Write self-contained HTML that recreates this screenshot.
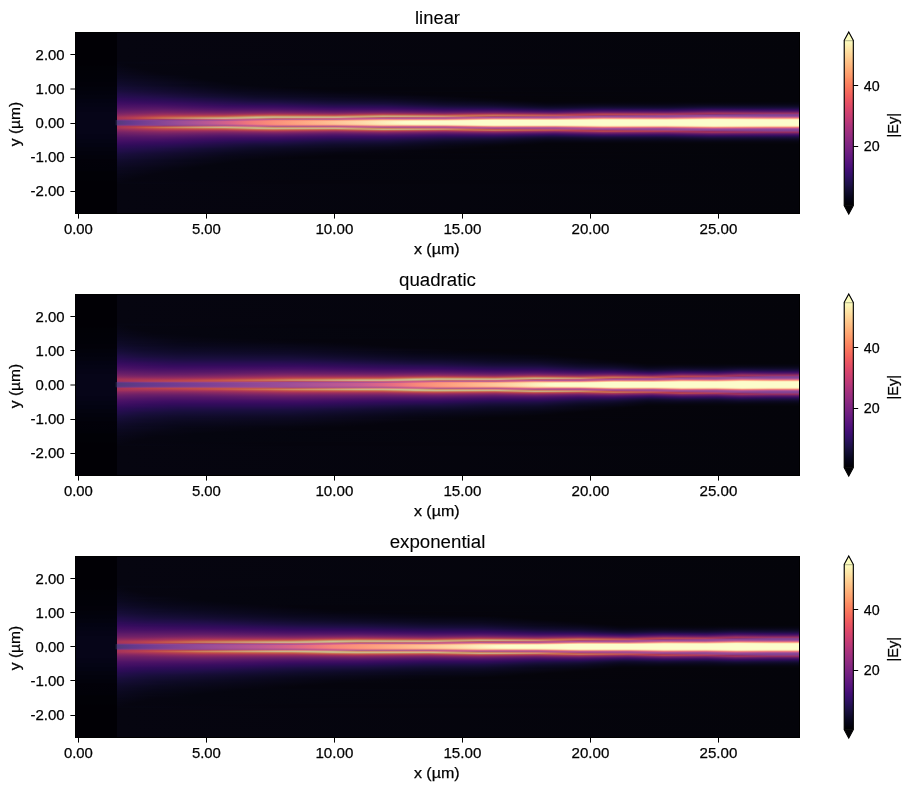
<!DOCTYPE html>
<html><head><meta charset="utf-8"><title>field plots</title>
<style>html,body{margin:0;padding:0;background:#fff}body{width:910px;height:790px;overflow:hidden;font-family:"Liberation Sans",sans-serif}svg{display:block}</style>
</head><body>
<svg width="910" height="790" viewBox="0 0 910 790">
<defs>
<linearGradient id="src" x1="0" y1="0" x2="0" y2="1"><stop offset="0" stop-color="#010005"/><stop offset="0.1823" stop-color="#010005"/><stop offset="0.1878" stop-color="#010106"/><stop offset="0.2707" stop-color="#010108"/><stop offset="0.2762" stop-color="#020109"/><stop offset="0.2983" stop-color="#020109"/><stop offset="0.3039" stop-color="#02020b"/><stop offset="0.3204" stop-color="#02020b"/><stop offset="0.326" stop-color="#02020d"/><stop offset="0.3425" stop-color="#02020d"/><stop offset="0.3481" stop-color="#03030f"/><stop offset="0.3646" stop-color="#03030f"/><stop offset="0.3702" stop-color="#030312"/><stop offset="0.3867" stop-color="#030312"/><stop offset="0.3923" stop-color="#040414"/><stop offset="0.4088" stop-color="#040414"/><stop offset="0.4144" stop-color="#050416"/><stop offset="0.4365" stop-color="#050416"/><stop offset="0.442" stop-color="#060518"/><stop offset="0.558" stop-color="#060518"/><stop offset="0.5635" stop-color="#050416"/><stop offset="0.5856" stop-color="#050416"/><stop offset="0.5912" stop-color="#040414"/><stop offset="0.6077" stop-color="#040414"/><stop offset="0.6133" stop-color="#030312"/><stop offset="0.6298" stop-color="#030312"/><stop offset="0.6354" stop-color="#03030f"/><stop offset="0.6519" stop-color="#03030f"/><stop offset="0.6575" stop-color="#02020d"/><stop offset="0.674" stop-color="#02020d"/><stop offset="0.6796" stop-color="#02020b"/><stop offset="0.6961" stop-color="#02020b"/><stop offset="0.7017" stop-color="#020109"/><stop offset="0.7624" stop-color="#010108"/><stop offset="0.768" stop-color="#010106"/><stop offset="0.8122" stop-color="#010106"/><stop offset="0.8177" stop-color="#010005"/><stop offset="1" stop-color="#010005"/></linearGradient>
<linearGradient id="cb" x1="0" y1="0" x2="0" y2="1"><stop offset="0" stop-color="#fcfdbf"/><stop offset="0.0159" stop-color="#fcf6b8"/><stop offset="0.0317" stop-color="#fceeb0"/><stop offset="0.0476" stop-color="#fde7a9"/><stop offset="0.0635" stop-color="#fde0a1"/><stop offset="0.0794" stop-color="#fed89a"/><stop offset="0.0952" stop-color="#fed194"/><stop offset="0.1111" stop-color="#feca8d"/><stop offset="0.127" stop-color="#fec287"/><stop offset="0.1429" stop-color="#febb81"/><stop offset="0.1587" stop-color="#feb47b"/><stop offset="0.1746" stop-color="#feac76"/><stop offset="0.1905" stop-color="#fea571"/><stop offset="0.2063" stop-color="#fe9d6c"/><stop offset="0.2222" stop-color="#fd9668"/><stop offset="0.2381" stop-color="#fc8c63"/><stop offset="0.254" stop-color="#fb8560"/><stop offset="0.2698" stop-color="#fa7d5e"/><stop offset="0.2857" stop-color="#f8765c"/><stop offset="0.3016" stop-color="#f66e5c"/><stop offset="0.3175" stop-color="#f4675c"/><stop offset="0.3333" stop-color="#f1605d"/><stop offset="0.3492" stop-color="#ed5a5f"/><stop offset="0.3651" stop-color="#e95462"/><stop offset="0.381" stop-color="#e44f64"/><stop offset="0.3968" stop-color="#df4a68"/><stop offset="0.4127" stop-color="#d9466b"/><stop offset="0.4286" stop-color="#d3436e"/><stop offset="0.4444" stop-color="#cd4071"/><stop offset="0.4603" stop-color="#c73d73"/><stop offset="0.4762" stop-color="#c03a76"/><stop offset="0.4921" stop-color="#ba3878"/><stop offset="0.5079" stop-color="#b2357b"/><stop offset="0.5238" stop-color="#ab337c"/><stop offset="0.5397" stop-color="#a5317e"/><stop offset="0.5556" stop-color="#9e2f7f"/><stop offset="0.5714" stop-color="#982d80"/><stop offset="0.5873" stop-color="#912b81"/><stop offset="0.6032" stop-color="#8b2981"/><stop offset="0.619" stop-color="#842681"/><stop offset="0.6349" stop-color="#7e2482"/><stop offset="0.6508" stop-color="#782281"/><stop offset="0.6667" stop-color="#721f81"/><stop offset="0.6825" stop-color="#6b1d81"/><stop offset="0.6984" stop-color="#651a80"/><stop offset="0.7143" stop-color="#5f187f"/><stop offset="0.7302" stop-color="#59157e"/><stop offset="0.746" stop-color="#52137c"/><stop offset="0.7619" stop-color="#4c117a"/><stop offset="0.7778" stop-color="#440f76"/><stop offset="0.7937" stop-color="#3d0f71"/><stop offset="0.8095" stop-color="#36106b"/><stop offset="0.8254" stop-color="#2f1163"/><stop offset="0.8413" stop-color="#29115a"/><stop offset="0.8571" stop-color="#221150"/><stop offset="0.873" stop-color="#1d1147"/><stop offset="0.8889" stop-color="#180f3d"/><stop offset="0.9048" stop-color="#130d34"/><stop offset="0.9206" stop-color="#0e0b2b"/><stop offset="0.9365" stop-color="#0a0822"/><stop offset="0.9524" stop-color="#06051a"/><stop offset="0.9683" stop-color="#030312"/><stop offset="0.9841" stop-color="#020109"/><stop offset="1" stop-color="#000004"/></linearGradient>
<linearGradient id="g0_0" gradientUnits="userSpaceOnUse" x1="117" y1="0" x2="800" y2="0"><stop offset="0" stop-color="#060510"/><stop offset="1" stop-color="#04040a"/></linearGradient>
<linearGradient id="g0_1" gradientUnits="userSpaceOnUse" x1="117" y1="0" x2="800" y2="0"><stop offset="0" stop-color="#060510"/><stop offset="1" stop-color="#04040a"/></linearGradient>
<linearGradient id="g0_2" gradientUnits="userSpaceOnUse" x1="117" y1="0" x2="800" y2="0"><stop offset="0" stop-color="#060510"/><stop offset="1" stop-color="#04040a"/></linearGradient>
<linearGradient id="g0_3" gradientUnits="userSpaceOnUse" x1="117" y1="0" x2="800" y2="0"><stop offset="0" stop-color="#060510"/><stop offset="1" stop-color="#04040a"/></linearGradient>
<linearGradient id="g0_4" gradientUnits="userSpaceOnUse" x1="117" y1="0" x2="800" y2="0"><stop offset="0" stop-color="#060510"/><stop offset="1" stop-color="#04040a"/></linearGradient>
<linearGradient id="g0_5" gradientUnits="userSpaceOnUse" x1="117" y1="0" x2="800" y2="0"><stop offset="0" stop-color="#060510"/><stop offset="1" stop-color="#04040a"/></linearGradient>
<linearGradient id="g0_6" gradientUnits="userSpaceOnUse" x1="117" y1="0" x2="800" y2="0"><stop offset="0" stop-color="#060510"/><stop offset="1" stop-color="#04040a"/></linearGradient>
<linearGradient id="g0_7" gradientUnits="userSpaceOnUse" x1="117" y1="0" x2="800" y2="0"><stop offset="0" stop-color="#060510"/><stop offset="1" stop-color="#04040a"/></linearGradient>
<linearGradient id="g0_8" gradientUnits="userSpaceOnUse" x1="117" y1="0" x2="800" y2="0"><stop offset="0" stop-color="#060510"/><stop offset="1" stop-color="#04040a"/></linearGradient>
<linearGradient id="g0_9" gradientUnits="userSpaceOnUse" x1="117" y1="0" x2="800" y2="0"><stop offset="0" stop-color="#060510"/><stop offset="1" stop-color="#04040a"/></linearGradient>
<linearGradient id="g0_10" gradientUnits="userSpaceOnUse" x1="117" y1="0" x2="800" y2="0"><stop offset="0" stop-color="#060510"/><stop offset="1" stop-color="#04040a"/></linearGradient>
<linearGradient id="g0_11" gradientUnits="userSpaceOnUse" x1="117" y1="0" x2="800" y2="0"><stop offset="0" stop-color="#060510"/><stop offset="1" stop-color="#04040a"/></linearGradient>
<linearGradient id="g0_12" gradientUnits="userSpaceOnUse" x1="117" y1="0" x2="800" y2="0"><stop offset="0" stop-color="#060510"/><stop offset="1" stop-color="#04040a"/></linearGradient>
<linearGradient id="g0_13" gradientUnits="userSpaceOnUse" x1="117" y1="0" x2="800" y2="0"><stop offset="0" stop-color="#060510"/><stop offset="1" stop-color="#04040a"/></linearGradient>
<linearGradient id="g0_14" gradientUnits="userSpaceOnUse" x1="117" y1="0" x2="800" y2="0"><stop offset="0" stop-color="#060510"/><stop offset="1" stop-color="#04040a"/></linearGradient>
<linearGradient id="g0_15" gradientUnits="userSpaceOnUse" x1="117" y1="0" x2="800" y2="0"><stop offset="0" stop-color="#060510"/><stop offset="1" stop-color="#04040a"/></linearGradient>
<linearGradient id="g0_16" gradientUnits="userSpaceOnUse" x1="117" y1="0" x2="800" y2="0"><stop offset="0" stop-color="#060510"/><stop offset="1" stop-color="#04040a"/></linearGradient>
<linearGradient id="g0_17" gradientUnits="userSpaceOnUse" x1="117" y1="0" x2="800" y2="0"><stop offset="0" stop-color="#060510"/><stop offset="1" stop-color="#04040a"/></linearGradient>
<linearGradient id="g0_18" gradientUnits="userSpaceOnUse" x1="117" y1="0" x2="800" y2="0"><stop offset="0" stop-color="#060510"/><stop offset="1" stop-color="#04040a"/></linearGradient>
<linearGradient id="g0_19" gradientUnits="userSpaceOnUse" x1="117" y1="0" x2="800" y2="0"><stop offset="0" stop-color="#060510"/><stop offset="1" stop-color="#04040a"/></linearGradient>
<linearGradient id="g0_20" gradientUnits="userSpaceOnUse" x1="117" y1="0" x2="800" y2="0"><stop offset="0" stop-color="#060510"/><stop offset="1" stop-color="#04040a"/></linearGradient>
<linearGradient id="g0_21" gradientUnits="userSpaceOnUse" x1="117" y1="0" x2="800" y2="0"><stop offset="0" stop-color="#060510"/><stop offset="1" stop-color="#04040a"/></linearGradient>
<linearGradient id="g0_22" gradientUnits="userSpaceOnUse" x1="117" y1="0" x2="800" y2="0"><stop offset="0" stop-color="#060510"/><stop offset="1" stop-color="#04040a"/></linearGradient>
<linearGradient id="g0_23" gradientUnits="userSpaceOnUse" x1="117" y1="0" x2="800" y2="0"><stop offset="0" stop-color="#060510"/><stop offset="1" stop-color="#04040a"/></linearGradient>
<linearGradient id="g0_24" gradientUnits="userSpaceOnUse" x1="117" y1="0" x2="800" y2="0"><stop offset="0" stop-color="#060510"/><stop offset="1" stop-color="#04040a"/></linearGradient>
<linearGradient id="g0_25" gradientUnits="userSpaceOnUse" x1="117" y1="0" x2="800" y2="0"><stop offset="0" stop-color="#060510"/><stop offset="1" stop-color="#04040a"/></linearGradient>
<linearGradient id="g0_26" gradientUnits="userSpaceOnUse" x1="117" y1="0" x2="800" y2="0"><stop offset="0" stop-color="#060510"/><stop offset="1" stop-color="#04040a"/></linearGradient>
<linearGradient id="g0_27" gradientUnits="userSpaceOnUse" x1="117" y1="0" x2="800" y2="0"><stop offset="0" stop-color="#060510"/><stop offset="1" stop-color="#04040a"/></linearGradient>
<linearGradient id="g0_28" gradientUnits="userSpaceOnUse" x1="117" y1="0" x2="800" y2="0"><stop offset="0" stop-color="#060510"/><stop offset="1" stop-color="#04040a"/></linearGradient>
<linearGradient id="g0_29" gradientUnits="userSpaceOnUse" x1="117" y1="0" x2="800" y2="0"><stop offset="0" stop-color="#060510"/><stop offset="1" stop-color="#04040a"/></linearGradient>
<linearGradient id="g0_30" gradientUnits="userSpaceOnUse" x1="117" y1="0" x2="800" y2="0"><stop offset="0" stop-color="#060612"/><stop offset="0.2592" stop-color="#05040d"/><stop offset="1" stop-color="#04040a"/></linearGradient>
<linearGradient id="g0_31" gradientUnits="userSpaceOnUse" x1="117" y1="0" x2="800" y2="0"><stop offset="0" stop-color="#060512"/><stop offset="0.2592" stop-color="#05040d"/><stop offset="1" stop-color="#04040a"/></linearGradient>
<linearGradient id="g0_32" gradientUnits="userSpaceOnUse" x1="117" y1="0" x2="800" y2="0"><stop offset="0" stop-color="#070614"/><stop offset="0.0132" stop-color="#060510"/><stop offset="0.2592" stop-color="#05040d"/><stop offset="1" stop-color="#04040a"/></linearGradient>
<linearGradient id="g0_33" gradientUnits="userSpaceOnUse" x1="117" y1="0" x2="800" y2="0"><stop offset="0" stop-color="#070614"/><stop offset="0.0176" stop-color="#060510"/><stop offset="0.2592" stop-color="#05040d"/><stop offset="1" stop-color="#04040a"/></linearGradient>
<linearGradient id="g0_34" gradientUnits="userSpaceOnUse" x1="117" y1="0" x2="800" y2="0"><stop offset="0" stop-color="#070615"/><stop offset="0.0234" stop-color="#060510"/><stop offset="0.1113" stop-color="#05050f"/><stop offset="1" stop-color="#04040a"/></linearGradient>
<linearGradient id="g0_35" gradientUnits="userSpaceOnUse" x1="117" y1="0" x2="800" y2="0"><stop offset="0" stop-color="#070615"/><stop offset="0.0278" stop-color="#060510"/><stop offset="0.1113" stop-color="#05050f"/><stop offset="1" stop-color="#04040a"/></linearGradient>
<linearGradient id="g0_36" gradientUnits="userSpaceOnUse" x1="117" y1="0" x2="800" y2="0"><stop offset="0" stop-color="#080717"/><stop offset="0.0351" stop-color="#060510"/><stop offset="0.1113" stop-color="#05050f"/><stop offset="1" stop-color="#04040a"/></linearGradient>
<linearGradient id="g0_37" gradientUnits="userSpaceOnUse" x1="117" y1="0" x2="800" y2="0"><stop offset="0" stop-color="#080717"/><stop offset="0.041" stop-color="#060510"/><stop offset="0.1113" stop-color="#05050f"/><stop offset="1" stop-color="#04040a"/></linearGradient>
<linearGradient id="g0_38" gradientUnits="userSpaceOnUse" x1="117" y1="0" x2="800" y2="0"><stop offset="0" stop-color="#090719"/><stop offset="0.0469" stop-color="#060510"/><stop offset="0.1113" stop-color="#05050f"/><stop offset="1" stop-color="#04040a"/></linearGradient>
<linearGradient id="g0_39" gradientUnits="userSpaceOnUse" x1="117" y1="0" x2="800" y2="0"><stop offset="0" stop-color="#080719"/><stop offset="0.0542" stop-color="#060510"/><stop offset="0.1113" stop-color="#05050f"/><stop offset="1" stop-color="#04040a"/></linearGradient>
<linearGradient id="g0_40" gradientUnits="userSpaceOnUse" x1="117" y1="0" x2="800" y2="0"><stop offset="0" stop-color="#09081b"/><stop offset="0.06" stop-color="#060510"/><stop offset="0.1113" stop-color="#05050f"/><stop offset="1" stop-color="#04040a"/></linearGradient>
<linearGradient id="g0_41" gradientUnits="userSpaceOnUse" x1="117" y1="0" x2="800" y2="0"><stop offset="0" stop-color="#0a081c"/><stop offset="0.0673" stop-color="#060510"/><stop offset="0.1113" stop-color="#05050f"/><stop offset="1" stop-color="#04040a"/></linearGradient>
<linearGradient id="g0_42" gradientUnits="userSpaceOnUse" x1="117" y1="0" x2="800" y2="0"><stop offset="0" stop-color="#0a081c"/><stop offset="0.0747" stop-color="#060510"/><stop offset="0.1113" stop-color="#05050f"/><stop offset="1" stop-color="#04040a"/></linearGradient>
<linearGradient id="g0_43" gradientUnits="userSpaceOnUse" x1="117" y1="0" x2="800" y2="0"><stop offset="0" stop-color="#0b081e"/><stop offset="0.0688" stop-color="#060512"/><stop offset="0.1113" stop-color="#05050f"/><stop offset="1" stop-color="#04040a"/></linearGradient>
<linearGradient id="g0_44" gradientUnits="userSpaceOnUse" x1="117" y1="0" x2="800" y2="0"><stop offset="0" stop-color="#0b0920"/><stop offset="0.1113" stop-color="#05050f"/><stop offset="1" stop-color="#04040a"/></linearGradient>
<linearGradient id="g0_45" gradientUnits="userSpaceOnUse" x1="117" y1="0" x2="800" y2="0"><stop offset="0" stop-color="#0b0920"/><stop offset="0.1113" stop-color="#05050f"/><stop offset="1" stop-color="#04040a"/></linearGradient>
<linearGradient id="g0_46" gradientUnits="userSpaceOnUse" x1="117" y1="0" x2="800" y2="0"><stop offset="0" stop-color="#0c0922"/><stop offset="0.1201" stop-color="#05050f"/><stop offset="1" stop-color="#04040a"/></linearGradient>
<linearGradient id="g0_47" gradientUnits="userSpaceOnUse" x1="117" y1="0" x2="800" y2="0"><stop offset="0" stop-color="#0d0a24"/><stop offset="0.1288" stop-color="#05050f"/><stop offset="1" stop-color="#04040a"/></linearGradient>
<linearGradient id="g0_48" gradientUnits="userSpaceOnUse" x1="117" y1="0" x2="800" y2="0"><stop offset="0" stop-color="#0e0a26"/><stop offset="0.1376" stop-color="#05050f"/><stop offset="1" stop-color="#04040a"/></linearGradient>
<linearGradient id="g0_49" gradientUnits="userSpaceOnUse" x1="117" y1="0" x2="800" y2="0"><stop offset="0" stop-color="#0f0a27"/><stop offset="0.1464" stop-color="#05050f"/><stop offset="1" stop-color="#04040a"/></linearGradient>
<linearGradient id="g0_50" gradientUnits="userSpaceOnUse" x1="117" y1="0" x2="800" y2="0"><stop offset="0" stop-color="#0f0b29"/><stop offset="0.1567" stop-color="#05050f"/><stop offset="1" stop-color="#04040a"/></linearGradient>
<linearGradient id="g0_51" gradientUnits="userSpaceOnUse" x1="117" y1="0" x2="800" y2="0"><stop offset="0" stop-color="#100b2b"/><stop offset="0.1669" stop-color="#05050f"/><stop offset="1" stop-color="#04040a"/></linearGradient>
<linearGradient id="g0_52" gradientUnits="userSpaceOnUse" x1="117" y1="0" x2="800" y2="0"><stop offset="0" stop-color="#110b2d"/><stop offset="0.1025" stop-color="#080719"/><stop offset="0.1786" stop-color="#05050f"/><stop offset="1" stop-color="#04040a"/></linearGradient>
<linearGradient id="g0_53" gradientUnits="userSpaceOnUse" x1="117" y1="0" x2="800" y2="0"><stop offset="0" stop-color="#120c2f"/><stop offset="0.1127" stop-color="#080719"/><stop offset="0.1903" stop-color="#05050f"/><stop offset="1" stop-color="#04040a"/></linearGradient>
<linearGradient id="g0_54" gradientUnits="userSpaceOnUse" x1="117" y1="0" x2="800" y2="0"><stop offset="0" stop-color="#130c31"/><stop offset="0.1025" stop-color="#0a081c"/><stop offset="0.2035" stop-color="#05050f"/><stop offset="1" stop-color="#04040a"/></linearGradient>
<linearGradient id="g0_55" gradientUnits="userSpaceOnUse" x1="117" y1="0" x2="800" y2="0"><stop offset="0" stop-color="#150d35"/><stop offset="0.1464" stop-color="#080717"/><stop offset="0.2592" stop-color="#05040d"/><stop offset="1" stop-color="#04040a"/></linearGradient>
<linearGradient id="g0_56" gradientUnits="userSpaceOnUse" x1="117" y1="0" x2="800" y2="0"><stop offset="0" stop-color="#160d37"/><stop offset="0.1581" stop-color="#080717"/><stop offset="0.2753" stop-color="#05040d"/><stop offset="1" stop-color="#04040a"/></linearGradient>
<linearGradient id="g0_57" gradientUnits="userSpaceOnUse" x1="117" y1="0" x2="800" y2="0"><stop offset="0" stop-color="#170d38"/><stop offset="0.1728" stop-color="#080717"/><stop offset="0.2987" stop-color="#05040d"/><stop offset="1" stop-color="#04040a"/></linearGradient>
<linearGradient id="g0_58" gradientUnits="userSpaceOnUse" x1="117" y1="0" x2="800" y2="0"><stop offset="0" stop-color="#190e3c"/><stop offset="0.1625" stop-color="#09071b"/><stop offset="0.3236" stop-color="#05040d"/><stop offset="1" stop-color="#04040a"/></linearGradient>
<linearGradient id="g0_59" gradientUnits="userSpaceOnUse" x1="117" y1="0" x2="800" y2="0"><stop offset="0" stop-color="#1a0e3e"/><stop offset="0.1786" stop-color="#09071b"/><stop offset="0.3206" stop-color="#05050f"/><stop offset="1" stop-color="#04040a"/></linearGradient>
<linearGradient id="g0_60" gradientUnits="userSpaceOnUse" x1="117" y1="0" x2="800" y2="0"><stop offset="0" stop-color="#1d0e42"/><stop offset="0.1596" stop-color="#0b0920"/><stop offset="0.3221" stop-color="#060510"/><stop offset="0.4861" stop-color="#05040b"/><stop offset="1" stop-color="#04040a"/></linearGradient>
<linearGradient id="g0_61" gradientUnits="userSpaceOnUse" x1="117" y1="0" x2="800" y2="0"><stop offset="0" stop-color="#1f0e46"/><stop offset="0.1654" stop-color="#0c0922"/><stop offset="0.3294" stop-color="#060512"/><stop offset="0.4861" stop-color="#05040b"/><stop offset="1" stop-color="#04040a"/></linearGradient>
<linearGradient id="g0_62" gradientUnits="userSpaceOnUse" x1="117" y1="0" x2="800" y2="0"><stop offset="0" stop-color="#220e4a"/><stop offset="0.1962" stop-color="#0b0920"/><stop offset="0.4407" stop-color="#05040d"/><stop offset="1" stop-color="#04040a"/></linearGradient>
<linearGradient id="g0_63" gradientUnits="userSpaceOnUse" x1="117" y1="0" x2="800" y2="0"><stop offset="0" stop-color="#230e4c"/><stop offset="0.0673" stop-color="#1c0e40"/><stop offset="0.1245" stop-color="#130c31"/><stop offset="0.1933" stop-color="#0d0a24"/><stop offset="0.4597" stop-color="#05040d"/><stop offset="1" stop-color="#04040a"/></linearGradient>
<linearGradient id="g0_64" gradientUnits="userSpaceOnUse" x1="117" y1="0" x2="800" y2="0"><stop offset="0" stop-color="#260d4f"/><stop offset="0.041" stop-color="#220e4a"/><stop offset="0.1332" stop-color="#140d33"/><stop offset="0.205" stop-color="#0e0a26"/><stop offset="0.3119" stop-color="#09071b"/><stop offset="0.4173" stop-color="#070615"/><stop offset="0.5022" stop-color="#05040b"/><stop offset="1" stop-color="#04040a"/></linearGradient>
<linearGradient id="g0_65" gradientUnits="userSpaceOnUse" x1="117" y1="0" x2="800" y2="0"><stop offset="0" stop-color="#280d52"/><stop offset="0.0439" stop-color="#240e4d"/><stop offset="0.1347" stop-color="#160d37"/><stop offset="0.2064" stop-color="#0f0b29"/><stop offset="0.3309" stop-color="#0a081c"/><stop offset="0.41" stop-color="#090719"/><stop offset="0.5286" stop-color="#05040b"/><stop offset="1" stop-color="#04040a"/></linearGradient>
<linearGradient id="g0_66" gradientUnits="userSpaceOnUse" x1="117" y1="0" x2="800" y2="0"><stop offset="0" stop-color="#2d0c57"/><stop offset="0.0747" stop-color="#230e4c"/><stop offset="0.1962" stop-color="#120c2f"/><stop offset="0.5549" stop-color="#05040b"/><stop offset="1" stop-color="#04040a"/></linearGradient>
<linearGradient id="g0_67" gradientUnits="userSpaceOnUse" x1="117" y1="0" x2="800" y2="0"><stop offset="0" stop-color="#2f0c59"/><stop offset="0.0717" stop-color="#270d51"/><stop offset="0.202" stop-color="#140d33"/><stop offset="0.3119" stop-color="#0e0a26"/><stop offset="0.3924" stop-color="#0c0922"/><stop offset="0.4846" stop-color="#070614"/><stop offset="0.5754" stop-color="#05040b"/><stop offset="1" stop-color="#04040a"/></linearGradient>
<linearGradient id="g0_68" gradientUnits="userSpaceOnUse" x1="117" y1="0" x2="800" y2="0"><stop offset="0" stop-color="#320c5b"/><stop offset="0.0703" stop-color="#2b0d55"/><stop offset="0.1991" stop-color="#170d38"/><stop offset="0.2343" stop-color="#160d37"/><stop offset="0.3177" stop-color="#0f0b29"/><stop offset="0.3982" stop-color="#0e0a25"/><stop offset="0.4817" stop-color="#080717"/><stop offset="0.5959" stop-color="#05040b"/><stop offset="1" stop-color="#04040a"/></linearGradient>
<linearGradient id="g0_69" gradientUnits="userSpaceOnUse" x1="117" y1="0" x2="800" y2="0"><stop offset="0" stop-color="#360c5e"/><stop offset="0.0703" stop-color="#2f0c59"/><stop offset="0.1991" stop-color="#1a0e3e"/><stop offset="0.2343" stop-color="#190e3c"/><stop offset="0.3148" stop-color="#120c2f"/><stop offset="0.3939" stop-color="#100b2b"/><stop offset="0.4846" stop-color="#09071b"/><stop offset="0.6179" stop-color="#05040b"/><stop offset="1" stop-color="#04040a"/></linearGradient>
<linearGradient id="g0_70" gradientUnits="userSpaceOnUse" x1="117" y1="0" x2="800" y2="0"><stop offset="0" stop-color="#3a0d60"/><stop offset="0.0805" stop-color="#320c5b"/><stop offset="0.202" stop-color="#1e0e44"/><stop offset="0.2387" stop-color="#1d0e42"/><stop offset="0.3148" stop-color="#150d35"/><stop offset="0.3939" stop-color="#130c31"/><stop offset="0.4773" stop-color="#0b0920"/><stop offset="0.5403" stop-color="#09081b"/><stop offset="0.6266" stop-color="#05040d"/><stop offset="1" stop-color="#05050d"/></linearGradient>
<linearGradient id="g0_71" gradientUnits="userSpaceOnUse" x1="117" y1="0" x2="800" y2="0"><stop offset="0" stop-color="#3e0e62"/><stop offset="0.0922" stop-color="#350c5d"/><stop offset="0.1625" stop-color="#270d51"/><stop offset="0.2343" stop-color="#220e4a"/><stop offset="0.306" stop-color="#190e3c"/><stop offset="0.3982" stop-color="#160d37"/><stop offset="0.4758" stop-color="#0e0a26"/><stop offset="0.5505" stop-color="#0b081e"/><stop offset="0.6266" stop-color="#060510"/><stop offset="1" stop-color="#060510"/></linearGradient>
<linearGradient id="g0_72" gradientUnits="userSpaceOnUse" x1="117" y1="0" x2="800" y2="0"><stop offset="0" stop-color="#420f63"/><stop offset="0.0673" stop-color="#3e0e62"/><stop offset="0.1977" stop-color="#280d52"/><stop offset="0.2343" stop-color="#270d51"/><stop offset="0.3163" stop-color="#1d0e42"/><stop offset="0.3968" stop-color="#1a0e3e"/><stop offset="0.4788" stop-color="#100b2b"/><stop offset="0.552" stop-color="#0d0a24"/><stop offset="0.631" stop-color="#070614"/><stop offset="0.6955" stop-color="#080717"/><stop offset="0.798" stop-color="#070614"/><stop offset="0.8404" stop-color="#080717"/><stop offset="1" stop-color="#070615"/></linearGradient>
<linearGradient id="g0_73" gradientUnits="userSpaceOnUse" x1="117" y1="0" x2="800" y2="0"><stop offset="0" stop-color="#461064"/><stop offset="0.0439" stop-color="#461064"/><stop offset="0.1625" stop-color="#320c5b"/><stop offset="0.2299" stop-color="#2e0c58"/><stop offset="0.3177" stop-color="#220e4a"/><stop offset="0.3895" stop-color="#200e48"/><stop offset="0.4773" stop-color="#140d33"/><stop offset="0.5505" stop-color="#100b2b"/><stop offset="0.631" stop-color="#080719"/><stop offset="0.6837" stop-color="#0a081c"/><stop offset="0.8214" stop-color="#09071b"/><stop offset="0.8492" stop-color="#0b081e"/><stop offset="1" stop-color="#0a081c"/></linearGradient>
<linearGradient id="g0_74" gradientUnits="userSpaceOnUse" x1="117" y1="0" x2="800" y2="0"><stop offset="0" stop-color="#4b1266"/><stop offset="0.06" stop-color="#491265"/><stop offset="0.1581" stop-color="#390d60"/><stop offset="0.2299" stop-color="#350c5d"/><stop offset="0.3148" stop-color="#280d52"/><stop offset="0.3909" stop-color="#270d51"/><stop offset="0.4802" stop-color="#180e3a"/><stop offset="0.5447" stop-color="#150d35"/><stop offset="0.6281" stop-color="#0b0920"/><stop offset="0.7028" stop-color="#0e0a25"/><stop offset="0.8126" stop-color="#0c0922"/><stop offset="0.8726" stop-color="#0f0b29"/><stop offset="1" stop-color="#0d0a24"/></linearGradient>
<linearGradient id="g0_75" gradientUnits="userSpaceOnUse" x1="117" y1="0" x2="800" y2="0"><stop offset="0" stop-color="#4e1466"/><stop offset="0.0571" stop-color="#501466"/><stop offset="0.1596" stop-color="#3f0e63"/><stop offset="0.2372" stop-color="#3b0d61"/><stop offset="0.3192" stop-color="#2f0c59"/><stop offset="0.3982" stop-color="#2e0c58"/><stop offset="0.4846" stop-color="#1e0e44"/><stop offset="0.552" stop-color="#1a0e3e"/><stop offset="0.6266" stop-color="#0f0b29"/><stop offset="0.6574" stop-color="#0f0b29"/><stop offset="0.7101" stop-color="#130c31"/><stop offset="0.8038" stop-color="#100b2b"/><stop offset="0.8624" stop-color="#150d35"/><stop offset="1" stop-color="#130c31"/></linearGradient>
<linearGradient id="g0_76" gradientUnits="userSpaceOnUse" x1="117" y1="0" x2="800" y2="0"><stop offset="0" stop-color="#531667"/><stop offset="0.06" stop-color="#561767"/><stop offset="0.1567" stop-color="#471165"/><stop offset="0.2328" stop-color="#441064"/><stop offset="0.3119" stop-color="#390d60"/><stop offset="0.3968" stop-color="#370c5f"/><stop offset="0.4773" stop-color="#270d51"/><stop offset="0.552" stop-color="#230e4c"/><stop offset="0.6281" stop-color="#150d35"/><stop offset="0.653" stop-color="#150d35"/><stop offset="0.7042" stop-color="#1a0e3e"/><stop offset="0.8023" stop-color="#170d38"/><stop offset="0.8682" stop-color="#1f0e46"/><stop offset="0.94" stop-color="#1c0e40"/><stop offset="1" stop-color="#1c0e40"/></linearGradient>
<linearGradient id="g0_77" gradientUnits="userSpaceOnUse" x1="117" y1="0" x2="800" y2="0"><stop offset="0" stop-color="#5a1967"/><stop offset="0.0732" stop-color="#5c1a67"/><stop offset="0.1523" stop-color="#501466"/><stop offset="0.2284" stop-color="#4e1466"/><stop offset="0.3133" stop-color="#420f63"/><stop offset="0.4143" stop-color="#3f0e63"/><stop offset="0.4802" stop-color="#310c5a"/><stop offset="0.5564" stop-color="#2e0c58"/><stop offset="0.634" stop-color="#1d0e42"/><stop offset="0.7101" stop-color="#270d51"/><stop offset="0.8082" stop-color="#230e4c"/><stop offset="0.8668" stop-color="#2e0c58"/><stop offset="1" stop-color="#280d52"/></linearGradient>
<linearGradient id="g0_78" gradientUnits="userSpaceOnUse" x1="117" y1="0" x2="800" y2="0"><stop offset="0" stop-color="#601b68"/><stop offset="0.0688" stop-color="#651d68"/><stop offset="0.1552" stop-color="#581867"/><stop offset="0.2357" stop-color="#581867"/><stop offset="0.3177" stop-color="#4c1366"/><stop offset="0.3939" stop-color="#4e1466"/><stop offset="0.4758" stop-color="#3e0e62"/><stop offset="0.5505" stop-color="#3e0e62"/><stop offset="0.6384" stop-color="#2a0d54"/><stop offset="0.7116" stop-color="#390d60"/><stop offset="0.8067" stop-color="#330c5c"/><stop offset="0.8682" stop-color="#420f63"/><stop offset="1" stop-color="#3b0d61"/></linearGradient>
<linearGradient id="g0_79" gradientUnits="userSpaceOnUse" x1="117" y1="0" x2="800" y2="0"><stop offset="0" stop-color="#661d68"/><stop offset="0.0454" stop-color="#6e2067"/><stop offset="0.0761" stop-color="#6e2067"/><stop offset="0.1523" stop-color="#641c68"/><stop offset="0.2328" stop-color="#661d68"/><stop offset="0.3192" stop-color="#581867"/><stop offset="0.3953" stop-color="#5d1a68"/><stop offset="0.4802" stop-color="#4c1366"/><stop offset="0.5534" stop-color="#501466"/><stop offset="0.6296" stop-color="#3d0d62"/><stop offset="0.6442" stop-color="#3d0d62"/><stop offset="0.713" stop-color="#4e1466"/><stop offset="0.8067" stop-color="#481165"/><stop offset="0.8712" stop-color="#5b1967"/><stop offset="0.9575" stop-color="#521667"/><stop offset="1" stop-color="#521667"/></linearGradient>
<linearGradient id="g0_80" gradientUnits="userSpaceOnUse" x1="117" y1="0" x2="800" y2="0"><stop offset="0" stop-color="#6e2067"/><stop offset="0.0659" stop-color="#792466"/><stop offset="0.1537" stop-color="#702167"/><stop offset="0.2343" stop-color="#772367"/><stop offset="0.3163" stop-color="#691e68"/><stop offset="0.3924" stop-color="#722167"/><stop offset="0.4758" stop-color="#601b68"/><stop offset="0.5534" stop-color="#671e68"/><stop offset="0.6413" stop-color="#521667"/><stop offset="0.7101" stop-color="#6a1f68"/><stop offset="0.8053" stop-color="#621c68"/><stop offset="0.8712" stop-color="#7c2566"/><stop offset="0.9575" stop-color="#702167"/><stop offset="1" stop-color="#702167"/></linearGradient>
<linearGradient id="g0_81" gradientUnits="userSpaceOnUse" x1="117" y1="0" x2="800" y2="0"><stop offset="0" stop-color="#752367"/><stop offset="0.0673" stop-color="#862864"/><stop offset="0.164" stop-color="#812665"/><stop offset="0.2313" stop-color="#8d2a62"/><stop offset="0.3192" stop-color="#7d2566"/><stop offset="0.3909" stop-color="#8d2a62"/><stop offset="0.4802" stop-color="#782366"/><stop offset="0.552" stop-color="#892963"/><stop offset="0.6413" stop-color="#702167"/><stop offset="0.7116" stop-color="#922c61"/><stop offset="0.8038" stop-color="#862864"/><stop offset="0.8712" stop-color="#a93558"/><stop offset="0.9561" stop-color="#9a2f5e"/><stop offset="1" stop-color="#9a2f5e"/></linearGradient>
<linearGradient id="g0_82" gradientUnits="userSpaceOnUse" x1="117" y1="0" x2="800" y2="0"><stop offset="0" stop-color="#802665"/><stop offset="0.0644" stop-color="#952d60"/><stop offset="0.1596" stop-color="#952d60"/><stop offset="0.2284" stop-color="#a93558"/><stop offset="0.3221" stop-color="#9a2f5e"/><stop offset="0.388" stop-color="#b03a54"/><stop offset="0.4817" stop-color="#9d305d"/><stop offset="0.5212" stop-color="#ad3856"/><stop offset="0.5549" stop-color="#b43d52"/><stop offset="0.6413" stop-color="#9b2f5e"/><stop offset="0.6794" stop-color="#b33c52"/><stop offset="0.7116" stop-color="#c14d4a"/><stop offset="0.8023" stop-color="#b63e51"/><stop offset="0.8638" stop-color="#922c61"/><stop offset="0.8741" stop-color="#8e2d66"/><stop offset="0.959" stop-color="#8c3c84"/><stop offset="1" stop-color="#8c3c84"/></linearGradient>
<linearGradient id="g0_83" gradientUnits="userSpaceOnUse" x1="117" y1="0" x2="800" y2="0"><stop offset="0" stop-color="#8a2963"/><stop offset="0.0688" stop-color="#a83558"/><stop offset="0.1581" stop-color="#ae3855"/><stop offset="0.1977" stop-color="#be484c"/><stop offset="0.2269" stop-color="#c45449"/><stop offset="0.3206" stop-color="#bb444e"/><stop offset="0.3558" stop-color="#c55849"/><stop offset="0.3895" stop-color="#c96f4f"/><stop offset="0.4173" stop-color="#c9694c"/><stop offset="0.4802" stop-color="#c3524a"/><stop offset="0.511" stop-color="#c9694c"/><stop offset="0.5505" stop-color="#cb845a"/><stop offset="0.5944" stop-color="#c96f4f"/><stop offset="0.6457" stop-color="#c55849"/><stop offset="0.672" stop-color="#bb444e"/><stop offset="0.7028" stop-color="#aa3758"/><stop offset="0.713" stop-color="#a5355f"/><stop offset="0.8023" stop-color="#a14482"/><stop offset="0.8624" stop-color="#8b4898"/><stop offset="0.877" stop-color="#864698"/><stop offset="1" stop-color="#804397"/></linearGradient>
<linearGradient id="g0_84" gradientUnits="userSpaceOnUse" x1="117" y1="0" x2="800" y2="0"><stop offset="0" stop-color="#972e5f"/><stop offset="0.0307" stop-color="#a83558"/><stop offset="0.0703" stop-color="#bb444e"/><stop offset="0.1552" stop-color="#c45449"/><stop offset="0.1801" stop-color="#c9694c"/><stop offset="0.205" stop-color="#cb8158"/><stop offset="0.2284" stop-color="#cb9062"/><stop offset="0.3192" stop-color="#cb7e56"/><stop offset="0.3558" stop-color="#cba372"/><stop offset="0.3895" stop-color="#cac694"/><stop offset="0.4202" stop-color="#cac08e"/><stop offset="0.4788" stop-color="#cba675"/><stop offset="0.4978" stop-color="#cb8a5e"/><stop offset="0.5183" stop-color="#c96d4e"/><stop offset="0.5388" stop-color="#c45449"/><stop offset="0.552" stop-color="#be4851"/><stop offset="0.6428" stop-color="#b54c7d"/><stop offset="0.7013" stop-color="#994d98"/><stop offset="0.7174" stop-color="#934b98"/><stop offset="0.798" stop-color="#8c4898"/><stop offset="0.8697" stop-color="#994d98"/><stop offset="0.9546" stop-color="#904a98"/><stop offset="1" stop-color="#904a98"/></linearGradient>
<linearGradient id="g0_85" gradientUnits="userSpaceOnUse" x1="117" y1="0" x2="800" y2="0"><stop offset="0" stop-color="#a4335a"/><stop offset="0.0249" stop-color="#b23c53"/><stop offset="0.041" stop-color="#bd474c"/><stop offset="0.0615" stop-color="#c55749"/><stop offset="0.1201" stop-color="#ca7853"/><stop offset="0.1567" stop-color="#cb855b"/><stop offset="0.1757" stop-color="#cb9e6e"/><stop offset="0.205" stop-color="#c9ca99"/><stop offset="0.325" stop-color="#c9ca99"/><stop offset="0.3631" stop-color="#cb9164"/><stop offset="0.3792" stop-color="#cb7954"/><stop offset="0.3865" stop-color="#cb6f51"/><stop offset="0.3968" stop-color="#cb6953"/><stop offset="0.4802" stop-color="#d05e72"/><stop offset="0.5124" stop-color="#b75289"/><stop offset="0.5388" stop-color="#a55197"/><stop offset="0.5505" stop-color="#9d4e98"/><stop offset="0.6413" stop-color="#994d98"/><stop offset="0.7101" stop-color="#b15596"/><stop offset="0.8038" stop-color="#a85297"/><stop offset="0.8726" stop-color="#cd5e8e"/><stop offset="0.9561" stop-color="#c05992"/><stop offset="1" stop-color="#c05992"/></linearGradient>
<linearGradient id="g0_86" gradientUnits="userSpaceOnUse" x1="117" y1="0" x2="800" y2="0"><stop offset="0" stop-color="#a5345a"/><stop offset="0.0234" stop-color="#b9424f"/><stop offset="0.0381" stop-color="#c45449"/><stop offset="0.0542" stop-color="#c9694c"/><stop offset="0.0659" stop-color="#cb7b55"/><stop offset="0.0805" stop-color="#cb8a5e"/><stop offset="0.1332" stop-color="#cab987"/><stop offset="0.1567" stop-color="#c9c997"/><stop offset="0.1786" stop-color="#caba88"/><stop offset="0.202" stop-color="#cba474"/><stop offset="0.2167" stop-color="#cb8d60"/><stop offset="0.2299" stop-color="#cd7957"/><stop offset="0.3192" stop-color="#dc6f6f"/><stop offset="0.3455" stop-color="#ca5a80"/><stop offset="0.3763" stop-color="#ae5395"/><stop offset="0.3909" stop-color="#a15098"/><stop offset="0.4802" stop-color="#9e4f98"/><stop offset="0.552" stop-color="#cd5e8e"/><stop offset="0.6413" stop-color="#c45b91"/><stop offset="0.6808" stop-color="#e16885"/><stop offset="0.713" stop-color="#f37d7a"/><stop offset="0.8038" stop-color="#eb717f"/><stop offset="0.8389" stop-color="#f78579"/><stop offset="0.8741" stop-color="#fc9c7d"/><stop offset="0.9561" stop-color="#f88879"/><stop offset="1" stop-color="#f88879"/></linearGradient>
<linearGradient id="g0_87" gradientUnits="userSpaceOnUse" x1="117" y1="0" x2="800" y2="0"><stop offset="0" stop-color="#a73459"/><stop offset="0.0439" stop-color="#af3955"/><stop offset="0.0688" stop-color="#ac395b"/><stop offset="0.1274" stop-color="#cb5b66"/><stop offset="0.1596" stop-color="#d76671"/><stop offset="0.1772" stop-color="#d05e7b"/><stop offset="0.1991" stop-color="#c1578a"/><stop offset="0.2167" stop-color="#af5496"/><stop offset="0.2299" stop-color="#a25098"/><stop offset="0.3192" stop-color="#a25098"/><stop offset="0.3558" stop-color="#cc5e8f"/><stop offset="0.3895" stop-color="#e96f80"/><stop offset="0.4173" stop-color="#e46a83"/><stop offset="0.4802" stop-color="#e46a83"/><stop offset="0.5007" stop-color="#f1797b"/><stop offset="0.5168" stop-color="#f88a79"/><stop offset="0.53" stop-color="#fc997c"/><stop offset="0.552" stop-color="#feb489"/><stop offset="0.6428" stop-color="#fdaa84"/><stop offset="0.6794" stop-color="#fec696"/><stop offset="0.7116" stop-color="#fedfad"/><stop offset="0.8038" stop-color="#fed3a2"/><stop offset="0.8726" stop-color="#fdf6c3"/><stop offset="0.9546" stop-color="#fee5b2"/><stop offset="1" stop-color="#fee5b2"/></linearGradient>
<linearGradient id="g0_88" gradientUnits="userSpaceOnUse" x1="117" y1="0" x2="800" y2="0"><stop offset="0" stop-color="#733486"/><stop offset="0.0322" stop-color="#813f90"/><stop offset="0.0556" stop-color="#854597"/><stop offset="0.0688" stop-color="#814397"/><stop offset="0.1259" stop-color="#944b98"/><stop offset="0.1581" stop-color="#9a4d98"/><stop offset="0.1742" stop-color="#aa5397"/><stop offset="0.1933" stop-color="#c45b91"/><stop offset="0.2123" stop-color="#df6786"/><stop offset="0.2225" stop-color="#ec727e"/><stop offset="0.2313" stop-color="#f37c7b"/><stop offset="0.2489" stop-color="#f58179"/><stop offset="0.2884" stop-color="#f98b79"/><stop offset="0.3177" stop-color="#f98e7a"/><stop offset="0.3572" stop-color="#feac85"/><stop offset="0.3895" stop-color="#feca9a"/><stop offset="0.4187" stop-color="#feca9a"/><stop offset="0.4817" stop-color="#fed8a6"/><stop offset="0.5344" stop-color="#fcfdcb"/><stop offset="1" stop-color="#fcfdcb"/></linearGradient>
<linearGradient id="g0_89" gradientUnits="userSpaceOnUse" x1="117" y1="0" x2="800" y2="0"><stop offset="0" stop-color="#533c7d"/><stop offset="0.0146" stop-color="#603a8b"/><stop offset="0.0293" stop-color="#6c3c92"/><stop offset="0.0864" stop-color="#974c98"/><stop offset="0.1318" stop-color="#b85794"/><stop offset="0.164" stop-color="#d6628a"/><stop offset="0.1816" stop-color="#e66c82"/><stop offset="0.2006" stop-color="#f37d7a"/><stop offset="0.2269" stop-color="#f98e7a"/><stop offset="0.2621" stop-color="#fda380"/><stop offset="0.3001" stop-color="#feb88c"/><stop offset="0.3836" stop-color="#fde7b4"/><stop offset="0.4334" stop-color="#fcfdcb"/><stop offset="1" stop-color="#fcfdcb"/></linearGradient>
<linearGradient id="g0_90" gradientUnits="userSpaceOnUse" x1="117" y1="0" x2="800" y2="0"><stop offset="0" stop-color="#533c7d"/><stop offset="0.0146" stop-color="#603a8b"/><stop offset="0.0293" stop-color="#6c3c92"/><stop offset="0.0893" stop-color="#994d98"/><stop offset="0.1318" stop-color="#ba5894"/><stop offset="0.1684" stop-color="#dc6587"/><stop offset="0.1947" stop-color="#f1797b"/><stop offset="0.2211" stop-color="#f98b79"/><stop offset="0.2577" stop-color="#fda17f"/><stop offset="0.3016" stop-color="#febb8e"/><stop offset="0.3602" stop-color="#fedcaa"/><stop offset="0.4187" stop-color="#fcfdcb"/><stop offset="1" stop-color="#fcfdcb"/></linearGradient>
<linearGradient id="g1_0" gradientUnits="userSpaceOnUse" x1="117" y1="0" x2="800" y2="0"><stop offset="0" stop-color="#060510"/><stop offset="1" stop-color="#04040a"/></linearGradient>
<linearGradient id="g1_1" gradientUnits="userSpaceOnUse" x1="117" y1="0" x2="800" y2="0"><stop offset="0" stop-color="#060510"/><stop offset="1" stop-color="#04040a"/></linearGradient>
<linearGradient id="g1_2" gradientUnits="userSpaceOnUse" x1="117" y1="0" x2="800" y2="0"><stop offset="0" stop-color="#060510"/><stop offset="1" stop-color="#04040a"/></linearGradient>
<linearGradient id="g1_3" gradientUnits="userSpaceOnUse" x1="117" y1="0" x2="800" y2="0"><stop offset="0" stop-color="#060510"/><stop offset="1" stop-color="#04040a"/></linearGradient>
<linearGradient id="g1_4" gradientUnits="userSpaceOnUse" x1="117" y1="0" x2="800" y2="0"><stop offset="0" stop-color="#060510"/><stop offset="1" stop-color="#04040a"/></linearGradient>
<linearGradient id="g1_5" gradientUnits="userSpaceOnUse" x1="117" y1="0" x2="800" y2="0"><stop offset="0" stop-color="#060510"/><stop offset="1" stop-color="#04040a"/></linearGradient>
<linearGradient id="g1_6" gradientUnits="userSpaceOnUse" x1="117" y1="0" x2="800" y2="0"><stop offset="0" stop-color="#060510"/><stop offset="1" stop-color="#04040a"/></linearGradient>
<linearGradient id="g1_7" gradientUnits="userSpaceOnUse" x1="117" y1="0" x2="800" y2="0"><stop offset="0" stop-color="#060510"/><stop offset="1" stop-color="#04040a"/></linearGradient>
<linearGradient id="g1_8" gradientUnits="userSpaceOnUse" x1="117" y1="0" x2="800" y2="0"><stop offset="0" stop-color="#060510"/><stop offset="1" stop-color="#04040a"/></linearGradient>
<linearGradient id="g1_9" gradientUnits="userSpaceOnUse" x1="117" y1="0" x2="800" y2="0"><stop offset="0" stop-color="#060510"/><stop offset="1" stop-color="#04040a"/></linearGradient>
<linearGradient id="g1_10" gradientUnits="userSpaceOnUse" x1="117" y1="0" x2="800" y2="0"><stop offset="0" stop-color="#060510"/><stop offset="1" stop-color="#04040a"/></linearGradient>
<linearGradient id="g1_11" gradientUnits="userSpaceOnUse" x1="117" y1="0" x2="800" y2="0"><stop offset="0" stop-color="#060510"/><stop offset="1" stop-color="#04040a"/></linearGradient>
<linearGradient id="g1_12" gradientUnits="userSpaceOnUse" x1="117" y1="0" x2="800" y2="0"><stop offset="0" stop-color="#060510"/><stop offset="1" stop-color="#04040a"/></linearGradient>
<linearGradient id="g1_13" gradientUnits="userSpaceOnUse" x1="117" y1="0" x2="800" y2="0"><stop offset="0" stop-color="#060510"/><stop offset="1" stop-color="#04040a"/></linearGradient>
<linearGradient id="g1_14" gradientUnits="userSpaceOnUse" x1="117" y1="0" x2="800" y2="0"><stop offset="0" stop-color="#060510"/><stop offset="1" stop-color="#04040a"/></linearGradient>
<linearGradient id="g1_15" gradientUnits="userSpaceOnUse" x1="117" y1="0" x2="800" y2="0"><stop offset="0" stop-color="#060510"/><stop offset="1" stop-color="#04040a"/></linearGradient>
<linearGradient id="g1_16" gradientUnits="userSpaceOnUse" x1="117" y1="0" x2="800" y2="0"><stop offset="0" stop-color="#060510"/><stop offset="1" stop-color="#04040a"/></linearGradient>
<linearGradient id="g1_17" gradientUnits="userSpaceOnUse" x1="117" y1="0" x2="800" y2="0"><stop offset="0" stop-color="#060510"/><stop offset="1" stop-color="#04040a"/></linearGradient>
<linearGradient id="g1_18" gradientUnits="userSpaceOnUse" x1="117" y1="0" x2="800" y2="0"><stop offset="0" stop-color="#060510"/><stop offset="1" stop-color="#04040a"/></linearGradient>
<linearGradient id="g1_19" gradientUnits="userSpaceOnUse" x1="117" y1="0" x2="800" y2="0"><stop offset="0" stop-color="#060510"/><stop offset="1" stop-color="#04040a"/></linearGradient>
<linearGradient id="g1_20" gradientUnits="userSpaceOnUse" x1="117" y1="0" x2="800" y2="0"><stop offset="0" stop-color="#060510"/><stop offset="1" stop-color="#04040a"/></linearGradient>
<linearGradient id="g1_21" gradientUnits="userSpaceOnUse" x1="117" y1="0" x2="800" y2="0"><stop offset="0" stop-color="#060510"/><stop offset="1" stop-color="#04040a"/></linearGradient>
<linearGradient id="g1_22" gradientUnits="userSpaceOnUse" x1="117" y1="0" x2="800" y2="0"><stop offset="0" stop-color="#060510"/><stop offset="1" stop-color="#04040a"/></linearGradient>
<linearGradient id="g1_23" gradientUnits="userSpaceOnUse" x1="117" y1="0" x2="800" y2="0"><stop offset="0" stop-color="#060510"/><stop offset="1" stop-color="#04040a"/></linearGradient>
<linearGradient id="g1_24" gradientUnits="userSpaceOnUse" x1="117" y1="0" x2="800" y2="0"><stop offset="0" stop-color="#060510"/><stop offset="1" stop-color="#04040a"/></linearGradient>
<linearGradient id="g1_25" gradientUnits="userSpaceOnUse" x1="117" y1="0" x2="800" y2="0"><stop offset="0" stop-color="#060510"/><stop offset="1" stop-color="#04040a"/></linearGradient>
<linearGradient id="g1_26" gradientUnits="userSpaceOnUse" x1="117" y1="0" x2="800" y2="0"><stop offset="0" stop-color="#060510"/><stop offset="1" stop-color="#04040a"/></linearGradient>
<linearGradient id="g1_27" gradientUnits="userSpaceOnUse" x1="117" y1="0" x2="800" y2="0"><stop offset="0" stop-color="#060510"/><stop offset="1" stop-color="#04040a"/></linearGradient>
<linearGradient id="g1_28" gradientUnits="userSpaceOnUse" x1="117" y1="0" x2="800" y2="0"><stop offset="0" stop-color="#060510"/><stop offset="1" stop-color="#04040a"/></linearGradient>
<linearGradient id="g1_29" gradientUnits="userSpaceOnUse" x1="117" y1="0" x2="800" y2="0"><stop offset="0" stop-color="#060510"/><stop offset="1" stop-color="#04040a"/></linearGradient>
<linearGradient id="g1_30" gradientUnits="userSpaceOnUse" x1="117" y1="0" x2="800" y2="0"><stop offset="0" stop-color="#060612"/><stop offset="0.2592" stop-color="#05040d"/><stop offset="1" stop-color="#04040a"/></linearGradient>
<linearGradient id="g1_31" gradientUnits="userSpaceOnUse" x1="117" y1="0" x2="800" y2="0"><stop offset="0" stop-color="#060512"/><stop offset="0.2592" stop-color="#05040d"/><stop offset="1" stop-color="#04040a"/></linearGradient>
<linearGradient id="g1_32" gradientUnits="userSpaceOnUse" x1="117" y1="0" x2="800" y2="0"><stop offset="0" stop-color="#070614"/><stop offset="0.0132" stop-color="#060510"/><stop offset="0.2592" stop-color="#05040d"/><stop offset="1" stop-color="#04040a"/></linearGradient>
<linearGradient id="g1_33" gradientUnits="userSpaceOnUse" x1="117" y1="0" x2="800" y2="0"><stop offset="0" stop-color="#070614"/><stop offset="0.019" stop-color="#060510"/><stop offset="0.2592" stop-color="#05040d"/><stop offset="1" stop-color="#04040a"/></linearGradient>
<linearGradient id="g1_34" gradientUnits="userSpaceOnUse" x1="117" y1="0" x2="800" y2="0"><stop offset="0" stop-color="#070615"/><stop offset="0.0234" stop-color="#060510"/><stop offset="0.1113" stop-color="#05050f"/><stop offset="1" stop-color="#04040a"/></linearGradient>
<linearGradient id="g1_35" gradientUnits="userSpaceOnUse" x1="117" y1="0" x2="800" y2="0"><stop offset="0" stop-color="#070615"/><stop offset="0.0293" stop-color="#060510"/><stop offset="0.1113" stop-color="#05050f"/><stop offset="1" stop-color="#04040a"/></linearGradient>
<linearGradient id="g1_36" gradientUnits="userSpaceOnUse" x1="117" y1="0" x2="800" y2="0"><stop offset="0" stop-color="#080717"/><stop offset="0.0366" stop-color="#060510"/><stop offset="0.1113" stop-color="#05050f"/><stop offset="1" stop-color="#04040a"/></linearGradient>
<linearGradient id="g1_37" gradientUnits="userSpaceOnUse" x1="117" y1="0" x2="800" y2="0"><stop offset="0" stop-color="#080717"/><stop offset="0.0425" stop-color="#060510"/><stop offset="0.1113" stop-color="#05050f"/><stop offset="1" stop-color="#04040a"/></linearGradient>
<linearGradient id="g1_38" gradientUnits="userSpaceOnUse" x1="117" y1="0" x2="800" y2="0"><stop offset="0" stop-color="#090719"/><stop offset="0.0512" stop-color="#060510"/><stop offset="0.1113" stop-color="#05050f"/><stop offset="1" stop-color="#04040a"/></linearGradient>
<linearGradient id="g1_39" gradientUnits="userSpaceOnUse" x1="117" y1="0" x2="800" y2="0"><stop offset="0" stop-color="#080719"/><stop offset="0.0586" stop-color="#060510"/><stop offset="0.1113" stop-color="#05050f"/><stop offset="1" stop-color="#04040a"/></linearGradient>
<linearGradient id="g1_40" gradientUnits="userSpaceOnUse" x1="117" y1="0" x2="800" y2="0"><stop offset="0" stop-color="#09081b"/><stop offset="0.0512" stop-color="#060512"/><stop offset="0.1113" stop-color="#05050f"/><stop offset="1" stop-color="#04040a"/></linearGradient>
<linearGradient id="g1_41" gradientUnits="userSpaceOnUse" x1="117" y1="0" x2="800" y2="0"><stop offset="0" stop-color="#0a081c"/><stop offset="0.0439" stop-color="#070614"/><stop offset="0.1113" stop-color="#05050f"/><stop offset="1" stop-color="#04040a"/></linearGradient>
<linearGradient id="g1_42" gradientUnits="userSpaceOnUse" x1="117" y1="0" x2="800" y2="0"><stop offset="0" stop-color="#0a081c"/><stop offset="0.0527" stop-color="#070614"/><stop offset="0.123" stop-color="#05050f"/><stop offset="1" stop-color="#04040a"/></linearGradient>
<linearGradient id="g1_43" gradientUnits="userSpaceOnUse" x1="117" y1="0" x2="800" y2="0"><stop offset="0" stop-color="#0b081e"/><stop offset="0.063" stop-color="#070614"/><stop offset="0.1464" stop-color="#05050f"/><stop offset="1" stop-color="#04040a"/></linearGradient>
<linearGradient id="g1_44" gradientUnits="userSpaceOnUse" x1="117" y1="0" x2="800" y2="0"><stop offset="0" stop-color="#0b0920"/><stop offset="0.0747" stop-color="#070614"/><stop offset="0.1801" stop-color="#05050f"/><stop offset="1" stop-color="#04040a"/></linearGradient>
<linearGradient id="g1_45" gradientUnits="userSpaceOnUse" x1="117" y1="0" x2="800" y2="0"><stop offset="0" stop-color="#0b0920"/><stop offset="0.0878" stop-color="#070614"/><stop offset="0.2665" stop-color="#05040d"/><stop offset="1" stop-color="#04040a"/></linearGradient>
<linearGradient id="g1_46" gradientUnits="userSpaceOnUse" x1="117" y1="0" x2="800" y2="0"><stop offset="0" stop-color="#0c0922"/><stop offset="0.1054" stop-color="#070614"/><stop offset="0.2899" stop-color="#05040d"/><stop offset="1" stop-color="#04040a"/></linearGradient>
<linearGradient id="g1_47" gradientUnits="userSpaceOnUse" x1="117" y1="0" x2="800" y2="0"><stop offset="0" stop-color="#0d0a24"/><stop offset="0.0981" stop-color="#070615"/><stop offset="0.3119" stop-color="#05040d"/><stop offset="1" stop-color="#04040a"/></linearGradient>
<linearGradient id="g1_48" gradientUnits="userSpaceOnUse" x1="117" y1="0" x2="800" y2="0"><stop offset="0" stop-color="#0e0a26"/><stop offset="0.0922" stop-color="#080717"/><stop offset="0.3338" stop-color="#05040d"/><stop offset="1" stop-color="#04040a"/></linearGradient>
<linearGradient id="g1_49" gradientUnits="userSpaceOnUse" x1="117" y1="0" x2="800" y2="0"><stop offset="0" stop-color="#0f0a27"/><stop offset="0.0293" stop-color="#0b0920"/><stop offset="0.0878" stop-color="#080719"/><stop offset="0.3529" stop-color="#05040d"/><stop offset="1" stop-color="#04040a"/></linearGradient>
<linearGradient id="g1_50" gradientUnits="userSpaceOnUse" x1="117" y1="0" x2="800" y2="0"><stop offset="0" stop-color="#0f0b29"/><stop offset="0.0849" stop-color="#09071b"/><stop offset="0.2504" stop-color="#070615"/><stop offset="0.3704" stop-color="#05040d"/><stop offset="1" stop-color="#04040a"/></linearGradient>
<linearGradient id="g1_51" gradientUnits="userSpaceOnUse" x1="117" y1="0" x2="800" y2="0"><stop offset="0" stop-color="#100b2b"/><stop offset="0.0395" stop-color="#0c0922"/><stop offset="0.1054" stop-color="#09071b"/><stop offset="0.246" stop-color="#080717"/><stop offset="0.3865" stop-color="#05040d"/><stop offset="1" stop-color="#04040a"/></linearGradient>
<linearGradient id="g1_52" gradientUnits="userSpaceOnUse" x1="117" y1="0" x2="800" y2="0"><stop offset="0" stop-color="#110b2d"/><stop offset="0.0395" stop-color="#0d0a24"/><stop offset="0.104" stop-color="#0a081c"/><stop offset="0.2445" stop-color="#090719"/><stop offset="0.4041" stop-color="#05040d"/><stop offset="1" stop-color="#04040a"/></linearGradient>
<linearGradient id="g1_53" gradientUnits="userSpaceOnUse" x1="117" y1="0" x2="800" y2="0"><stop offset="0" stop-color="#120c2f"/><stop offset="0.082" stop-color="#0b0920"/><stop offset="0.2767" stop-color="#090719"/><stop offset="0.4217" stop-color="#05040d"/><stop offset="1" stop-color="#04040a"/></linearGradient>
<linearGradient id="g1_54" gradientUnits="userSpaceOnUse" x1="117" y1="0" x2="800" y2="0"><stop offset="0" stop-color="#130c31"/><stop offset="0.0835" stop-color="#0c0922"/><stop offset="0.2796" stop-color="#09081b"/><stop offset="0.4392" stop-color="#05040d"/><stop offset="1" stop-color="#04040a"/></linearGradient>
<linearGradient id="g1_55" gradientUnits="userSpaceOnUse" x1="117" y1="0" x2="800" y2="0"><stop offset="0" stop-color="#150d35"/><stop offset="0.0425" stop-color="#0f0b29"/><stop offset="0.0864" stop-color="#0d0a24"/><stop offset="0.2548" stop-color="#0b081e"/><stop offset="0.5066" stop-color="#05040b"/><stop offset="1" stop-color="#04040a"/></linearGradient>
<linearGradient id="g1_56" gradientUnits="userSpaceOnUse" x1="117" y1="0" x2="800" y2="0"><stop offset="0" stop-color="#160d37"/><stop offset="0.0351" stop-color="#110b2d"/><stop offset="0.0908" stop-color="#0e0a26"/><stop offset="0.2621" stop-color="#0c0920"/><stop offset="0.53" stop-color="#05040b"/><stop offset="1" stop-color="#04040a"/></linearGradient>
<linearGradient id="g1_57" gradientUnits="userSpaceOnUse" x1="117" y1="0" x2="800" y2="0"><stop offset="0" stop-color="#170d38"/><stop offset="0.0381" stop-color="#120c2f"/><stop offset="0.0981" stop-color="#0e0a27"/><stop offset="0.2709" stop-color="#0c0922"/><stop offset="0.4348" stop-color="#060512"/><stop offset="0.552" stop-color="#05040b"/><stop offset="1" stop-color="#04040a"/></linearGradient>
<linearGradient id="g1_58" gradientUnits="userSpaceOnUse" x1="117" y1="0" x2="800" y2="0"><stop offset="0" stop-color="#190e3c"/><stop offset="0.0322" stop-color="#140d33"/><stop offset="0.0835" stop-color="#100b2b"/><stop offset="0.2562" stop-color="#0e0a25"/><stop offset="0.4363" stop-color="#070614"/><stop offset="0.549" stop-color="#05040d"/><stop offset="1" stop-color="#04040a"/></linearGradient>
<linearGradient id="g1_59" gradientUnits="userSpaceOnUse" x1="117" y1="0" x2="800" y2="0"><stop offset="0" stop-color="#1a0e3e"/><stop offset="0.0469" stop-color="#140d33"/><stop offset="0.0937" stop-color="#110b2d"/><stop offset="0.2694" stop-color="#0f0a27"/><stop offset="0.4407" stop-color="#070615"/><stop offset="0.5476" stop-color="#05050f"/><stop offset="0.6164" stop-color="#05040b"/><stop offset="1" stop-color="#04040a"/></linearGradient>
<linearGradient id="g1_60" gradientUnits="userSpaceOnUse" x1="117" y1="0" x2="800" y2="0"><stop offset="0" stop-color="#1d0e42"/><stop offset="0.0425" stop-color="#160d37"/><stop offset="0.0835" stop-color="#130c31"/><stop offset="0.2606" stop-color="#100b2b"/><stop offset="0.429" stop-color="#080719"/><stop offset="0.6354" stop-color="#05040b"/><stop offset="1" stop-color="#04040a"/></linearGradient>
<linearGradient id="g1_61" gradientUnits="userSpaceOnUse" x1="117" y1="0" x2="800" y2="0"><stop offset="0" stop-color="#1f0e46"/><stop offset="0.0395" stop-color="#180e3a"/><stop offset="0.0966" stop-color="#140d33"/><stop offset="0.2548" stop-color="#120c2f"/><stop offset="0.4363" stop-color="#09071b"/><stop offset="0.6149" stop-color="#060510"/><stop offset="0.6486" stop-color="#05040b"/><stop offset="1" stop-color="#04040a"/></linearGradient>
<linearGradient id="g1_62" gradientUnits="userSpaceOnUse" x1="117" y1="0" x2="800" y2="0"><stop offset="0" stop-color="#220e4a"/><stop offset="0.0366" stop-color="#1a0e3e"/><stop offset="0.0908" stop-color="#160d37"/><stop offset="0.2504" stop-color="#140d33"/><stop offset="0.4305" stop-color="#0b081e"/><stop offset="0.6179" stop-color="#060612"/><stop offset="0.6633" stop-color="#05040b"/><stop offset="1" stop-color="#04040a"/></linearGradient>
<linearGradient id="g1_63" gradientUnits="userSpaceOnUse" x1="117" y1="0" x2="800" y2="0"><stop offset="0" stop-color="#230e4c"/><stop offset="0.0351" stop-color="#1d0e42"/><stop offset="0.0878" stop-color="#180e3a"/><stop offset="0.2518" stop-color="#160d37"/><stop offset="0.4422" stop-color="#0b0920"/><stop offset="0.6047" stop-color="#070615"/><stop offset="0.6764" stop-color="#05040b"/><stop offset="1" stop-color="#04040a"/></linearGradient>
<linearGradient id="g1_64" gradientUnits="userSpaceOnUse" x1="117" y1="0" x2="800" y2="0"><stop offset="0" stop-color="#260d4f"/><stop offset="0.0864" stop-color="#1a0e3e"/><stop offset="0.2562" stop-color="#180e3a"/><stop offset="0.4392" stop-color="#0d0a24"/><stop offset="0.631" stop-color="#070615"/><stop offset="0.694" stop-color="#05040b"/><stop offset="1" stop-color="#04040a"/></linearGradient>
<linearGradient id="g1_65" gradientUnits="userSpaceOnUse" x1="117" y1="0" x2="800" y2="0"><stop offset="0" stop-color="#280d52"/><stop offset="0.0878" stop-color="#1d0e42"/><stop offset="0.265" stop-color="#1a0e3e"/><stop offset="0.4407" stop-color="#0e0a27"/><stop offset="0.6105" stop-color="#09081b"/><stop offset="0.7116" stop-color="#05040b"/><stop offset="1" stop-color="#04040a"/></linearGradient>
<linearGradient id="g1_66" gradientUnits="userSpaceOnUse" x1="117" y1="0" x2="800" y2="0"><stop offset="0" stop-color="#2d0c57"/><stop offset="0.0366" stop-color="#240e4d"/><stop offset="0.0922" stop-color="#1f0e46"/><stop offset="0.2753" stop-color="#1d0e42"/><stop offset="0.4305" stop-color="#110b2d"/><stop offset="0.4758" stop-color="#100b2b"/><stop offset="0.5534" stop-color="#0b0920"/><stop offset="0.6091" stop-color="#0b081e"/><stop offset="0.7291" stop-color="#05040b"/><stop offset="1" stop-color="#04040a"/></linearGradient>
<linearGradient id="g1_67" gradientUnits="userSpaceOnUse" x1="117" y1="0" x2="800" y2="0"><stop offset="0" stop-color="#2f0c59"/><stop offset="0.0395" stop-color="#270d51"/><stop offset="0.101" stop-color="#220e4a"/><stop offset="0.2387" stop-color="#220e4a"/><stop offset="0.2884" stop-color="#1f0e46"/><stop offset="0.4378" stop-color="#130c31"/><stop offset="0.4671" stop-color="#130c31"/><stop offset="0.5593" stop-color="#0d0a24"/><stop offset="0.612" stop-color="#0c0922"/><stop offset="0.7423" stop-color="#05040b"/><stop offset="1" stop-color="#04040a"/></linearGradient>
<linearGradient id="g1_68" gradientUnits="userSpaceOnUse" x1="117" y1="0" x2="800" y2="0"><stop offset="0" stop-color="#320c5b"/><stop offset="0.0878" stop-color="#260d4f"/><stop offset="0.2328" stop-color="#260d4f"/><stop offset="0.3045" stop-color="#220e4a"/><stop offset="0.4348" stop-color="#160d37"/><stop offset="0.4788" stop-color="#150d35"/><stop offset="0.549" stop-color="#0f0b29"/><stop offset="0.6164" stop-color="#0e0a25"/><stop offset="0.6794" stop-color="#080717"/><stop offset="0.757" stop-color="#05040b"/><stop offset="1" stop-color="#04040a"/></linearGradient>
<linearGradient id="g1_69" gradientUnits="userSpaceOnUse" x1="117" y1="0" x2="800" y2="0"><stop offset="0" stop-color="#360c5e"/><stop offset="0.0805" stop-color="#2a0d54"/><stop offset="0.2372" stop-color="#2a0d54"/><stop offset="0.306" stop-color="#260d4f"/><stop offset="0.4348" stop-color="#190e3c"/><stop offset="0.4788" stop-color="#180e3a"/><stop offset="0.5447" stop-color="#120c2f"/><stop offset="0.6135" stop-color="#100b2b"/><stop offset="0.6808" stop-color="#09071b"/><stop offset="0.7262" stop-color="#070615"/><stop offset="0.7701" stop-color="#05040b"/><stop offset="1" stop-color="#04040a"/></linearGradient>
<linearGradient id="g1_70" gradientUnits="userSpaceOnUse" x1="117" y1="0" x2="800" y2="0"><stop offset="0" stop-color="#3a0d60"/><stop offset="0.0761" stop-color="#2e0c58"/><stop offset="0.2548" stop-color="#2e0c58"/><stop offset="0.3265" stop-color="#280d52"/><stop offset="0.4392" stop-color="#1d0e42"/><stop offset="0.4685" stop-color="#1d0e42"/><stop offset="0.5461" stop-color="#150d35"/><stop offset="0.6135" stop-color="#130c31"/><stop offset="0.6764" stop-color="#0b0920"/><stop offset="0.7291" stop-color="#090719"/><stop offset="0.776" stop-color="#05050d"/><stop offset="1" stop-color="#05050d"/></linearGradient>
<linearGradient id="g1_71" gradientUnits="userSpaceOnUse" x1="117" y1="0" x2="800" y2="0"><stop offset="0" stop-color="#3e0e62"/><stop offset="0.0469" stop-color="#350c5d"/><stop offset="0.1054" stop-color="#310c5a"/><stop offset="0.2679" stop-color="#320c5b"/><stop offset="0.4597" stop-color="#220e4a"/><stop offset="0.5505" stop-color="#180e3a"/><stop offset="0.6179" stop-color="#160d37"/><stop offset="0.675" stop-color="#0e0a26"/><stop offset="0.7262" stop-color="#0b081e"/><stop offset="0.776" stop-color="#060510"/><stop offset="1" stop-color="#060510"/></linearGradient>
<linearGradient id="g1_72" gradientUnits="userSpaceOnUse" x1="117" y1="0" x2="800" y2="0"><stop offset="0" stop-color="#420f63"/><stop offset="0.0805" stop-color="#360c5e"/><stop offset="0.2665" stop-color="#370c5f"/><stop offset="0.3997" stop-color="#2a0d54"/><stop offset="0.4641" stop-color="#270d51"/><stop offset="0.5476" stop-color="#1d0e42"/><stop offset="0.6164" stop-color="#1a0e3e"/><stop offset="0.6779" stop-color="#100b2b"/><stop offset="0.7277" stop-color="#0d0a24"/><stop offset="0.7775" stop-color="#070614"/><stop offset="0.817" stop-color="#080717"/><stop offset="0.8755" stop-color="#070614"/><stop offset="0.8975" stop-color="#080717"/><stop offset="1" stop-color="#070615"/></linearGradient>
<linearGradient id="g1_73" gradientUnits="userSpaceOnUse" x1="117" y1="0" x2="800" y2="0"><stop offset="0" stop-color="#461064"/><stop offset="0.0688" stop-color="#3b0d61"/><stop offset="0.2723" stop-color="#3d0d62"/><stop offset="0.3865" stop-color="#310c5a"/><stop offset="0.4729" stop-color="#2d0c57"/><stop offset="0.5505" stop-color="#220e4a"/><stop offset="0.6193" stop-color="#1f0e46"/><stop offset="0.6764" stop-color="#140d33"/><stop offset="0.7262" stop-color="#100b2b"/><stop offset="0.7775" stop-color="#080719"/><stop offset="0.8097" stop-color="#0a081c"/><stop offset="0.8873" stop-color="#09071b"/><stop offset="0.9034" stop-color="#0b081e"/><stop offset="1" stop-color="#0a081c"/></linearGradient>
<linearGradient id="g1_74" gradientUnits="userSpaceOnUse" x1="117" y1="0" x2="800" y2="0"><stop offset="0" stop-color="#4b1266"/><stop offset="0.0278" stop-color="#441064"/><stop offset="0.0849" stop-color="#3f0e63"/><stop offset="0.265" stop-color="#430f64"/><stop offset="0.4012" stop-color="#360c5e"/><stop offset="0.4744" stop-color="#330c5c"/><stop offset="0.5476" stop-color="#280d52"/><stop offset="0.6193" stop-color="#260d4f"/><stop offset="0.6794" stop-color="#180e3a"/><stop offset="0.7291" stop-color="#140d33"/><stop offset="0.776" stop-color="#0b0920"/><stop offset="0.8214" stop-color="#0e0a25"/><stop offset="0.8829" stop-color="#0c0922"/><stop offset="0.9151" stop-color="#0f0b29"/><stop offset="0.959" stop-color="#0d0a24"/><stop offset="1" stop-color="#0d0a24"/></linearGradient>
<linearGradient id="g1_75" gradientUnits="userSpaceOnUse" x1="117" y1="0" x2="800" y2="0"><stop offset="0" stop-color="#4e1466"/><stop offset="0.0864" stop-color="#441064"/><stop offset="0.2679" stop-color="#491265"/><stop offset="0.3865" stop-color="#3e0e62"/><stop offset="0.4714" stop-color="#3b0d61"/><stop offset="0.552" stop-color="#2f0c59"/><stop offset="0.6252" stop-color="#2d0c57"/><stop offset="0.6823" stop-color="#1e0e44"/><stop offset="0.7277" stop-color="#1a0e3e"/><stop offset="0.776" stop-color="#0f0b29"/><stop offset="0.7936" stop-color="#0f0b29"/><stop offset="0.8258" stop-color="#130c31"/><stop offset="0.877" stop-color="#100b2b"/><stop offset="0.9092" stop-color="#150d35"/><stop offset="1" stop-color="#130c31"/></linearGradient>
<linearGradient id="g1_76" gradientUnits="userSpaceOnUse" x1="117" y1="0" x2="800" y2="0"><stop offset="0" stop-color="#531667"/><stop offset="0.0673" stop-color="#4b1266"/><stop offset="0.2592" stop-color="#511567"/><stop offset="0.3851" stop-color="#461064"/><stop offset="0.4671" stop-color="#441064"/><stop offset="0.5534" stop-color="#370c5f"/><stop offset="0.6164" stop-color="#370c5f"/><stop offset="0.6764" stop-color="#270d51"/><stop offset="0.7277" stop-color="#230e4c"/><stop offset="0.776" stop-color="#150d35"/><stop offset="0.7906" stop-color="#150d35"/><stop offset="0.8228" stop-color="#1a0e3e"/><stop offset="0.877" stop-color="#170d38"/><stop offset="0.9136" stop-color="#1f0e46"/><stop offset="0.9502" stop-color="#1c0e40"/><stop offset="1" stop-color="#1c0e40"/></linearGradient>
<linearGradient id="g1_77" gradientUnits="userSpaceOnUse" x1="117" y1="0" x2="800" y2="0"><stop offset="0" stop-color="#5a1967"/><stop offset="0.06" stop-color="#511567"/><stop offset="0.1376" stop-color="#511567"/><stop offset="0.1991" stop-color="#571867"/><stop offset="0.2665" stop-color="#581867"/><stop offset="0.3807" stop-color="#4e1466"/><stop offset="0.4744" stop-color="#4d1366"/><stop offset="0.5461" stop-color="#420f63"/><stop offset="0.6164" stop-color="#420f63"/><stop offset="0.6794" stop-color="#310c5a"/><stop offset="0.7247" stop-color="#2f0c59"/><stop offset="0.7804" stop-color="#1d0e42"/><stop offset="0.8258" stop-color="#270d51"/><stop offset="0.8799" stop-color="#230e4c"/><stop offset="0.9122" stop-color="#2e0c58"/><stop offset="0.9575" stop-color="#280d52"/><stop offset="1" stop-color="#280d52"/></linearGradient>
<linearGradient id="g1_78" gradientUnits="userSpaceOnUse" x1="117" y1="0" x2="800" y2="0"><stop offset="0" stop-color="#601b68"/><stop offset="0.0615" stop-color="#571867"/><stop offset="0.1215" stop-color="#571867"/><stop offset="0.2387" stop-color="#611b68"/><stop offset="0.3163" stop-color="#5f1a68"/><stop offset="0.388" stop-color="#571867"/><stop offset="0.4744" stop-color="#581867"/><stop offset="0.5505" stop-color="#4c1366"/><stop offset="0.6149" stop-color="#4e1466"/><stop offset="0.6764" stop-color="#3e0e62"/><stop offset="0.7262" stop-color="#3e0e62"/><stop offset="0.7818" stop-color="#2a0d54"/><stop offset="0.8272" stop-color="#390d60"/><stop offset="0.8799" stop-color="#330c5c"/><stop offset="0.9136" stop-color="#420f63"/><stop offset="0.9561" stop-color="#3b0d61"/><stop offset="1" stop-color="#3b0d61"/></linearGradient>
<linearGradient id="g1_79" gradientUnits="userSpaceOnUse" x1="117" y1="0" x2="800" y2="0"><stop offset="0" stop-color="#661d68"/><stop offset="0.06" stop-color="#5f1a68"/><stop offset="0.1362" stop-color="#601b68"/><stop offset="0.246" stop-color="#6b1f67"/><stop offset="0.3865" stop-color="#621c68"/><stop offset="0.4714" stop-color="#661d68"/><stop offset="0.5534" stop-color="#581867"/><stop offset="0.6149" stop-color="#5d1a68"/><stop offset="0.6794" stop-color="#4c1366"/><stop offset="0.7277" stop-color="#501466"/><stop offset="0.7775" stop-color="#3d0d62"/><stop offset="0.7862" stop-color="#3d0d62"/><stop offset="0.8272" stop-color="#4e1466"/><stop offset="0.8785" stop-color="#481165"/><stop offset="0.9151" stop-color="#5b1967"/><stop offset="0.959" stop-color="#521667"/><stop offset="1" stop-color="#521667"/></linearGradient>
<linearGradient id="g1_80" gradientUnits="userSpaceOnUse" x1="117" y1="0" x2="800" y2="0"><stop offset="0" stop-color="#6e2067"/><stop offset="0.0381" stop-color="#671e68"/><stop offset="0.0952" stop-color="#661d68"/><stop offset="0.246" stop-color="#772367"/><stop offset="0.3792" stop-color="#702167"/><stop offset="0.4744" stop-color="#772367"/><stop offset="0.552" stop-color="#691e68"/><stop offset="0.6135" stop-color="#722167"/><stop offset="0.675" stop-color="#601b68"/><stop offset="0.7277" stop-color="#671e68"/><stop offset="0.7833" stop-color="#521667"/><stop offset="0.8258" stop-color="#6a1f68"/><stop offset="0.8785" stop-color="#621c68"/><stop offset="0.9136" stop-color="#7c2566"/><stop offset="0.959" stop-color="#702167"/><stop offset="1" stop-color="#702167"/></linearGradient>
<linearGradient id="g1_81" gradientUnits="userSpaceOnUse" x1="117" y1="0" x2="800" y2="0"><stop offset="0" stop-color="#752367"/><stop offset="0.0366" stop-color="#702167"/><stop offset="0.104" stop-color="#702167"/><stop offset="0.2504" stop-color="#852864"/><stop offset="0.3953" stop-color="#812665"/><stop offset="0.4612" stop-color="#8d2a62"/><stop offset="0.5534" stop-color="#7d2566"/><stop offset="0.612" stop-color="#8d2a62"/><stop offset="0.675" stop-color="#792466"/><stop offset="0.7277" stop-color="#892963"/><stop offset="0.7833" stop-color="#702167"/><stop offset="0.8258" stop-color="#922c61"/><stop offset="0.877" stop-color="#862864"/><stop offset="0.9151" stop-color="#a93558"/><stop offset="0.9575" stop-color="#9a2f5e"/><stop offset="1" stop-color="#9a2f5e"/></linearGradient>
<linearGradient id="g1_82" gradientUnits="userSpaceOnUse" x1="117" y1="0" x2="800" y2="0"><stop offset="0" stop-color="#802665"/><stop offset="0.0351" stop-color="#7b2466"/><stop offset="0.1054" stop-color="#7c2566"/><stop offset="0.2533" stop-color="#962d60"/><stop offset="0.3924" stop-color="#962d60"/><stop offset="0.4641" stop-color="#a93558"/><stop offset="0.5549" stop-color="#9a2f5e"/><stop offset="0.6091" stop-color="#b03a54"/><stop offset="0.6354" stop-color="#ab3757"/><stop offset="0.6794" stop-color="#9d305d"/><stop offset="0.7247" stop-color="#b43d52"/><stop offset="0.7833" stop-color="#9b2f5e"/><stop offset="0.8097" stop-color="#b63e51"/><stop offset="0.8272" stop-color="#c14d4a"/><stop offset="0.877" stop-color="#b63e51"/><stop offset="0.9092" stop-color="#932c61"/><stop offset="0.9151" stop-color="#8e2d66"/><stop offset="0.959" stop-color="#8c3c84"/><stop offset="1" stop-color="#8c3c84"/></linearGradient>
<linearGradient id="g1_83" gradientUnits="userSpaceOnUse" x1="117" y1="0" x2="800" y2="0"><stop offset="0" stop-color="#8a2963"/><stop offset="0.0425" stop-color="#862864"/><stop offset="0.0996" stop-color="#892963"/><stop offset="0.1493" stop-color="#912b61"/><stop offset="0.2577" stop-color="#aa3657"/><stop offset="0.3895" stop-color="#af3955"/><stop offset="0.4392" stop-color="#c04c4b"/><stop offset="0.4656" stop-color="#c45549"/><stop offset="0.5534" stop-color="#bb444e"/><stop offset="0.5827" stop-color="#c55849"/><stop offset="0.6105" stop-color="#c96f4f"/><stop offset="0.6369" stop-color="#c8674c"/><stop offset="0.6779" stop-color="#c3524a"/><stop offset="0.6999" stop-color="#c9694c"/><stop offset="0.7277" stop-color="#cb845a"/><stop offset="0.7613" stop-color="#c96a4d"/><stop offset="0.7833" stop-color="#c65d4a"/><stop offset="0.7877" stop-color="#c55749"/><stop offset="0.8097" stop-color="#b63e51"/><stop offset="0.8243" stop-color="#a7365c"/><stop offset="0.877" stop-color="#a14482"/><stop offset="0.9092" stop-color="#8b4898"/><stop offset="0.918" stop-color="#864698"/><stop offset="0.959" stop-color="#804397"/><stop offset="1" stop-color="#804397"/></linearGradient>
<linearGradient id="g1_84" gradientUnits="userSpaceOnUse" x1="117" y1="0" x2="800" y2="0"><stop offset="0" stop-color="#972e5f"/><stop offset="0.0703" stop-color="#962d60"/><stop offset="0.1493" stop-color="#a3325b"/><stop offset="0.2152" stop-color="#b43d52"/><stop offset="0.2548" stop-color="#be484c"/><stop offset="0.3895" stop-color="#c55849"/><stop offset="0.4187" stop-color="#c96f4f"/><stop offset="0.4392" stop-color="#cb8259"/><stop offset="0.4685" stop-color="#cb9466"/><stop offset="0.5534" stop-color="#cb7f57"/><stop offset="0.5783" stop-color="#cb9d6d"/><stop offset="0.612" stop-color="#c9c796"/><stop offset="0.6384" stop-color="#cabf8d"/><stop offset="0.6779" stop-color="#cba675"/><stop offset="0.6896" stop-color="#cb8d60"/><stop offset="0.7028" stop-color="#ca7250"/><stop offset="0.7174" stop-color="#c55749"/><stop offset="0.7277" stop-color="#be4852"/><stop offset="0.7848" stop-color="#b54c7d"/><stop offset="0.8199" stop-color="#994d98"/><stop offset="0.8302" stop-color="#934b98"/><stop offset="0.8741" stop-color="#8c4898"/><stop offset="0.9136" stop-color="#994d98"/><stop offset="0.9575" stop-color="#904a98"/><stop offset="1" stop-color="#904a98"/></linearGradient>
<linearGradient id="g1_85" gradientUnits="userSpaceOnUse" x1="117" y1="0" x2="800" y2="0"><stop offset="0" stop-color="#a4335a"/><stop offset="0.0776" stop-color="#a83558"/><stop offset="0.1508" stop-color="#b73f50"/><stop offset="0.2211" stop-color="#c55849"/><stop offset="0.2548" stop-color="#c96a4d"/><stop offset="0.2958" stop-color="#ca7551"/><stop offset="0.3572" stop-color="#cb885d"/><stop offset="0.388" stop-color="#cb8e61"/><stop offset="0.4158" stop-color="#cbad7c"/><stop offset="0.4363" stop-color="#c9ca99"/><stop offset="0.5593" stop-color="#c9ca99"/><stop offset="0.59" stop-color="#cb9365"/><stop offset="0.6032" stop-color="#cb7b55"/><stop offset="0.6105" stop-color="#cb6d51"/><stop offset="0.6413" stop-color="#cf655d"/><stop offset="0.6779" stop-color="#d05e72"/><stop offset="0.6955" stop-color="#bd5384"/><stop offset="0.7204" stop-color="#a45097"/><stop offset="0.7262" stop-color="#9d4e98"/><stop offset="0.7335" stop-color="#9c4e98"/><stop offset="0.7848" stop-color="#994d98"/><stop offset="0.8258" stop-color="#b15596"/><stop offset="0.877" stop-color="#a85297"/><stop offset="0.9151" stop-color="#cd5e8e"/><stop offset="0.9575" stop-color="#c05992"/><stop offset="1" stop-color="#c05992"/></linearGradient>
<linearGradient id="g1_86" gradientUnits="userSpaceOnUse" x1="117" y1="0" x2="800" y2="0"><stop offset="0" stop-color="#a5345a"/><stop offset="0.101" stop-color="#bb444e"/><stop offset="0.1449" stop-color="#c45549"/><stop offset="0.1845" stop-color="#c9694c"/><stop offset="0.2284" stop-color="#cb845a"/><stop offset="0.2562" stop-color="#cb9969"/><stop offset="0.3031" stop-color="#cbad7c"/><stop offset="0.3572" stop-color="#c9ca99"/><stop offset="0.41" stop-color="#c9c997"/><stop offset="0.4392" stop-color="#cbaf7d"/><stop offset="0.4568" stop-color="#cb9365"/><stop offset="0.4671" stop-color="#cd825b"/><stop offset="0.4714" stop-color="#ce7e5b"/><stop offset="0.5534" stop-color="#dd706f"/><stop offset="0.5637" stop-color="#d66475"/><stop offset="0.5798" stop-color="#c75984"/><stop offset="0.6018" stop-color="#ae5496"/><stop offset="0.6135" stop-color="#a15098"/><stop offset="0.6779" stop-color="#9e4f98"/><stop offset="0.7277" stop-color="#cd5e8e"/><stop offset="0.7848" stop-color="#c55b91"/><stop offset="0.8067" stop-color="#e06885"/><stop offset="0.8258" stop-color="#f37c7b"/><stop offset="0.877" stop-color="#eb717f"/><stop offset="0.896" stop-color="#f68479"/><stop offset="0.9151" stop-color="#fc9b7d"/><stop offset="0.9575" stop-color="#f88879"/><stop offset="1" stop-color="#f88879"/></linearGradient>
<linearGradient id="g1_87" gradientUnits="userSpaceOnUse" x1="117" y1="0" x2="800" y2="0"><stop offset="0" stop-color="#a73459"/><stop offset="0.0337" stop-color="#b43d52"/><stop offset="0.0791" stop-color="#be484c"/><stop offset="0.1669" stop-color="#c3524a"/><stop offset="0.2313" stop-color="#c2504a"/><stop offset="0.2577" stop-color="#c04c51"/><stop offset="0.3529" stop-color="#d56a66"/><stop offset="0.3895" stop-color="#dd706f"/><stop offset="0.4143" stop-color="#d5627a"/><stop offset="0.4363" stop-color="#c85a88"/><stop offset="0.4568" stop-color="#b45695"/><stop offset="0.4685" stop-color="#a65197"/><stop offset="0.5534" stop-color="#a45097"/><stop offset="0.5886" stop-color="#d2608c"/><stop offset="0.612" stop-color="#ea7080"/><stop offset="0.631" stop-color="#e56b83"/><stop offset="0.6779" stop-color="#e46a83"/><stop offset="0.6852" stop-color="#ea7080"/><stop offset="0.7057" stop-color="#f98d79"/><stop offset="0.7277" stop-color="#feb489"/><stop offset="0.7848" stop-color="#fdaa84"/><stop offset="0.8023" stop-color="#fec092"/><stop offset="0.8272" stop-color="#fedfad"/><stop offset="0.877" stop-color="#fed3a2"/><stop offset="0.9151" stop-color="#fdf6c3"/><stop offset="0.9575" stop-color="#fee5b2"/><stop offset="1" stop-color="#fee5b2"/></linearGradient>
<linearGradient id="g1_88" gradientUnits="userSpaceOnUse" x1="117" y1="0" x2="800" y2="0"><stop offset="0" stop-color="#733486"/><stop offset="0.0454" stop-color="#873c87"/><stop offset="0.1186" stop-color="#97448a"/><stop offset="0.2079" stop-color="#9f4d94"/><stop offset="0.2548" stop-color="#944b98"/><stop offset="0.3895" stop-color="#a25098"/><stop offset="0.4129" stop-color="#b65695"/><stop offset="0.4348" stop-color="#d1608d"/><stop offset="0.4539" stop-color="#e86e81"/><stop offset="0.4685" stop-color="#f58179"/><stop offset="0.5212" stop-color="#f98e7a"/><stop offset="0.5534" stop-color="#fa917a"/><stop offset="0.5666" stop-color="#fc9c7d"/><stop offset="0.5886" stop-color="#feb288"/><stop offset="0.612" stop-color="#fecc9b"/><stop offset="0.634" stop-color="#fecc9b"/><stop offset="0.6779" stop-color="#fed8a6"/><stop offset="0.716" stop-color="#fcfdcb"/><stop offset="1" stop-color="#fcfdcb"/></linearGradient>
<linearGradient id="g1_89" gradientUnits="userSpaceOnUse" x1="117" y1="0" x2="800" y2="0"><stop offset="0" stop-color="#533c7d"/><stop offset="0.0278" stop-color="#5e3a89"/><stop offset="0.0761" stop-color="#6d3c92"/><stop offset="0.2416" stop-color="#994d98"/><stop offset="0.3411" stop-color="#c05992"/><stop offset="0.3763" stop-color="#d4618b"/><stop offset="0.4143" stop-color="#ec727e"/><stop offset="0.4392" stop-color="#f78779"/><stop offset="0.4876" stop-color="#fda17f"/><stop offset="0.5403" stop-color="#febe91"/><stop offset="0.5857" stop-color="#fed9a7"/><stop offset="0.6428" stop-color="#fcfdcb"/><stop offset="1" stop-color="#fcfdcb"/></linearGradient>
<linearGradient id="g1_90" gradientUnits="userSpaceOnUse" x1="117" y1="0" x2="800" y2="0"><stop offset="0" stop-color="#533c7d"/><stop offset="0.0439" stop-color="#643a8e"/><stop offset="0.1215" stop-color="#794096"/><stop offset="0.2504" stop-color="#9d4e98"/><stop offset="0.3572" stop-color="#c95d90"/><stop offset="0.4026" stop-color="#e76d82"/><stop offset="0.4407" stop-color="#f88a79"/><stop offset="0.4861" stop-color="#fda17f"/><stop offset="0.5286" stop-color="#feba8d"/><stop offset="0.5798" stop-color="#fed9a7"/><stop offset="0.6325" stop-color="#fcfdcb"/><stop offset="1" stop-color="#fcfdcb"/></linearGradient>
<linearGradient id="g2_0" gradientUnits="userSpaceOnUse" x1="117" y1="0" x2="800" y2="0"><stop offset="0" stop-color="#060510"/><stop offset="1" stop-color="#04040a"/></linearGradient>
<linearGradient id="g2_1" gradientUnits="userSpaceOnUse" x1="117" y1="0" x2="800" y2="0"><stop offset="0" stop-color="#060510"/><stop offset="1" stop-color="#04040a"/></linearGradient>
<linearGradient id="g2_2" gradientUnits="userSpaceOnUse" x1="117" y1="0" x2="800" y2="0"><stop offset="0" stop-color="#060510"/><stop offset="1" stop-color="#04040a"/></linearGradient>
<linearGradient id="g2_3" gradientUnits="userSpaceOnUse" x1="117" y1="0" x2="800" y2="0"><stop offset="0" stop-color="#060510"/><stop offset="1" stop-color="#04040a"/></linearGradient>
<linearGradient id="g2_4" gradientUnits="userSpaceOnUse" x1="117" y1="0" x2="800" y2="0"><stop offset="0" stop-color="#060510"/><stop offset="1" stop-color="#04040a"/></linearGradient>
<linearGradient id="g2_5" gradientUnits="userSpaceOnUse" x1="117" y1="0" x2="800" y2="0"><stop offset="0" stop-color="#060510"/><stop offset="1" stop-color="#04040a"/></linearGradient>
<linearGradient id="g2_6" gradientUnits="userSpaceOnUse" x1="117" y1="0" x2="800" y2="0"><stop offset="0" stop-color="#060510"/><stop offset="1" stop-color="#04040a"/></linearGradient>
<linearGradient id="g2_7" gradientUnits="userSpaceOnUse" x1="117" y1="0" x2="800" y2="0"><stop offset="0" stop-color="#060510"/><stop offset="1" stop-color="#04040a"/></linearGradient>
<linearGradient id="g2_8" gradientUnits="userSpaceOnUse" x1="117" y1="0" x2="800" y2="0"><stop offset="0" stop-color="#060510"/><stop offset="1" stop-color="#04040a"/></linearGradient>
<linearGradient id="g2_9" gradientUnits="userSpaceOnUse" x1="117" y1="0" x2="800" y2="0"><stop offset="0" stop-color="#060510"/><stop offset="1" stop-color="#04040a"/></linearGradient>
<linearGradient id="g2_10" gradientUnits="userSpaceOnUse" x1="117" y1="0" x2="800" y2="0"><stop offset="0" stop-color="#060510"/><stop offset="1" stop-color="#04040a"/></linearGradient>
<linearGradient id="g2_11" gradientUnits="userSpaceOnUse" x1="117" y1="0" x2="800" y2="0"><stop offset="0" stop-color="#060510"/><stop offset="1" stop-color="#04040a"/></linearGradient>
<linearGradient id="g2_12" gradientUnits="userSpaceOnUse" x1="117" y1="0" x2="800" y2="0"><stop offset="0" stop-color="#060510"/><stop offset="1" stop-color="#04040a"/></linearGradient>
<linearGradient id="g2_13" gradientUnits="userSpaceOnUse" x1="117" y1="0" x2="800" y2="0"><stop offset="0" stop-color="#060510"/><stop offset="1" stop-color="#04040a"/></linearGradient>
<linearGradient id="g2_14" gradientUnits="userSpaceOnUse" x1="117" y1="0" x2="800" y2="0"><stop offset="0" stop-color="#060510"/><stop offset="1" stop-color="#04040a"/></linearGradient>
<linearGradient id="g2_15" gradientUnits="userSpaceOnUse" x1="117" y1="0" x2="800" y2="0"><stop offset="0" stop-color="#060510"/><stop offset="1" stop-color="#04040a"/></linearGradient>
<linearGradient id="g2_16" gradientUnits="userSpaceOnUse" x1="117" y1="0" x2="800" y2="0"><stop offset="0" stop-color="#060510"/><stop offset="1" stop-color="#04040a"/></linearGradient>
<linearGradient id="g2_17" gradientUnits="userSpaceOnUse" x1="117" y1="0" x2="800" y2="0"><stop offset="0" stop-color="#060510"/><stop offset="1" stop-color="#04040a"/></linearGradient>
<linearGradient id="g2_18" gradientUnits="userSpaceOnUse" x1="117" y1="0" x2="800" y2="0"><stop offset="0" stop-color="#060510"/><stop offset="1" stop-color="#04040a"/></linearGradient>
<linearGradient id="g2_19" gradientUnits="userSpaceOnUse" x1="117" y1="0" x2="800" y2="0"><stop offset="0" stop-color="#060510"/><stop offset="1" stop-color="#04040a"/></linearGradient>
<linearGradient id="g2_20" gradientUnits="userSpaceOnUse" x1="117" y1="0" x2="800" y2="0"><stop offset="0" stop-color="#060510"/><stop offset="1" stop-color="#04040a"/></linearGradient>
<linearGradient id="g2_21" gradientUnits="userSpaceOnUse" x1="117" y1="0" x2="800" y2="0"><stop offset="0" stop-color="#060510"/><stop offset="1" stop-color="#04040a"/></linearGradient>
<linearGradient id="g2_22" gradientUnits="userSpaceOnUse" x1="117" y1="0" x2="800" y2="0"><stop offset="0" stop-color="#060510"/><stop offset="1" stop-color="#04040a"/></linearGradient>
<linearGradient id="g2_23" gradientUnits="userSpaceOnUse" x1="117" y1="0" x2="800" y2="0"><stop offset="0" stop-color="#060510"/><stop offset="1" stop-color="#04040a"/></linearGradient>
<linearGradient id="g2_24" gradientUnits="userSpaceOnUse" x1="117" y1="0" x2="800" y2="0"><stop offset="0" stop-color="#060510"/><stop offset="1" stop-color="#04040a"/></linearGradient>
<linearGradient id="g2_25" gradientUnits="userSpaceOnUse" x1="117" y1="0" x2="800" y2="0"><stop offset="0" stop-color="#060510"/><stop offset="1" stop-color="#04040a"/></linearGradient>
<linearGradient id="g2_26" gradientUnits="userSpaceOnUse" x1="117" y1="0" x2="800" y2="0"><stop offset="0" stop-color="#060510"/><stop offset="1" stop-color="#04040a"/></linearGradient>
<linearGradient id="g2_27" gradientUnits="userSpaceOnUse" x1="117" y1="0" x2="800" y2="0"><stop offset="0" stop-color="#060510"/><stop offset="1" stop-color="#04040a"/></linearGradient>
<linearGradient id="g2_28" gradientUnits="userSpaceOnUse" x1="117" y1="0" x2="800" y2="0"><stop offset="0" stop-color="#060510"/><stop offset="1" stop-color="#04040a"/></linearGradient>
<linearGradient id="g2_29" gradientUnits="userSpaceOnUse" x1="117" y1="0" x2="800" y2="0"><stop offset="0" stop-color="#060510"/><stop offset="1" stop-color="#04040a"/></linearGradient>
<linearGradient id="g2_30" gradientUnits="userSpaceOnUse" x1="117" y1="0" x2="800" y2="0"><stop offset="0" stop-color="#060612"/><stop offset="0.2592" stop-color="#05040d"/><stop offset="1" stop-color="#04040a"/></linearGradient>
<linearGradient id="g2_31" gradientUnits="userSpaceOnUse" x1="117" y1="0" x2="800" y2="0"><stop offset="0" stop-color="#060512"/><stop offset="0.2592" stop-color="#05040d"/><stop offset="1" stop-color="#04040a"/></linearGradient>
<linearGradient id="g2_32" gradientUnits="userSpaceOnUse" x1="117" y1="0" x2="800" y2="0"><stop offset="0" stop-color="#070614"/><stop offset="0.0132" stop-color="#060510"/><stop offset="0.2592" stop-color="#05040d"/><stop offset="1" stop-color="#04040a"/></linearGradient>
<linearGradient id="g2_33" gradientUnits="userSpaceOnUse" x1="117" y1="0" x2="800" y2="0"><stop offset="0" stop-color="#070614"/><stop offset="0.0176" stop-color="#060510"/><stop offset="0.2592" stop-color="#05040d"/><stop offset="1" stop-color="#04040a"/></linearGradient>
<linearGradient id="g2_34" gradientUnits="userSpaceOnUse" x1="117" y1="0" x2="800" y2="0"><stop offset="0" stop-color="#070615"/><stop offset="0.0234" stop-color="#060510"/><stop offset="0.1113" stop-color="#05050f"/><stop offset="1" stop-color="#04040a"/></linearGradient>
<linearGradient id="g2_35" gradientUnits="userSpaceOnUse" x1="117" y1="0" x2="800" y2="0"><stop offset="0" stop-color="#070615"/><stop offset="0.0293" stop-color="#060510"/><stop offset="0.1113" stop-color="#05050f"/><stop offset="1" stop-color="#04040a"/></linearGradient>
<linearGradient id="g2_36" gradientUnits="userSpaceOnUse" x1="117" y1="0" x2="800" y2="0"><stop offset="0" stop-color="#080717"/><stop offset="0.0351" stop-color="#060510"/><stop offset="0.1113" stop-color="#05050f"/><stop offset="1" stop-color="#04040a"/></linearGradient>
<linearGradient id="g2_37" gradientUnits="userSpaceOnUse" x1="117" y1="0" x2="800" y2="0"><stop offset="0" stop-color="#080717"/><stop offset="0.0425" stop-color="#060510"/><stop offset="0.1113" stop-color="#05050f"/><stop offset="1" stop-color="#04040a"/></linearGradient>
<linearGradient id="g2_38" gradientUnits="userSpaceOnUse" x1="117" y1="0" x2="800" y2="0"><stop offset="0" stop-color="#090719"/><stop offset="0.0498" stop-color="#060510"/><stop offset="0.1113" stop-color="#05050f"/><stop offset="1" stop-color="#04040a"/></linearGradient>
<linearGradient id="g2_39" gradientUnits="userSpaceOnUse" x1="117" y1="0" x2="800" y2="0"><stop offset="0" stop-color="#080719"/><stop offset="0.0571" stop-color="#060510"/><stop offset="0.1113" stop-color="#05050f"/><stop offset="1" stop-color="#04040a"/></linearGradient>
<linearGradient id="g2_40" gradientUnits="userSpaceOnUse" x1="117" y1="0" x2="800" y2="0"><stop offset="0" stop-color="#09081b"/><stop offset="0.0498" stop-color="#060512"/><stop offset="0.1113" stop-color="#05050f"/><stop offset="1" stop-color="#04040a"/></linearGradient>
<linearGradient id="g2_41" gradientUnits="userSpaceOnUse" x1="117" y1="0" x2="800" y2="0"><stop offset="0" stop-color="#0a081c"/><stop offset="0.0439" stop-color="#070614"/><stop offset="0.1113" stop-color="#05050f"/><stop offset="1" stop-color="#04040a"/></linearGradient>
<linearGradient id="g2_42" gradientUnits="userSpaceOnUse" x1="117" y1="0" x2="800" y2="0"><stop offset="0" stop-color="#0a081c"/><stop offset="0.1113" stop-color="#05050f"/><stop offset="1" stop-color="#04040a"/></linearGradient>
<linearGradient id="g2_43" gradientUnits="userSpaceOnUse" x1="117" y1="0" x2="800" y2="0"><stop offset="0" stop-color="#0b081e"/><stop offset="0.0469" stop-color="#070615"/><stop offset="0.1201" stop-color="#05050f"/><stop offset="1" stop-color="#04040a"/></linearGradient>
<linearGradient id="g2_44" gradientUnits="userSpaceOnUse" x1="117" y1="0" x2="800" y2="0"><stop offset="0" stop-color="#0b0920"/><stop offset="0.0425" stop-color="#080717"/><stop offset="0.1332" stop-color="#05050f"/><stop offset="1" stop-color="#04040a"/></linearGradient>
<linearGradient id="g2_45" gradientUnits="userSpaceOnUse" x1="117" y1="0" x2="800" y2="0"><stop offset="0" stop-color="#0b0920"/><stop offset="0.0527" stop-color="#080717"/><stop offset="0.1464" stop-color="#05050f"/><stop offset="1" stop-color="#04040a"/></linearGradient>
<linearGradient id="g2_46" gradientUnits="userSpaceOnUse" x1="117" y1="0" x2="800" y2="0"><stop offset="0" stop-color="#0c0922"/><stop offset="0.0483" stop-color="#080719"/><stop offset="0.1611" stop-color="#05050f"/><stop offset="1" stop-color="#04040a"/></linearGradient>
<linearGradient id="g2_47" gradientUnits="userSpaceOnUse" x1="117" y1="0" x2="800" y2="0"><stop offset="0" stop-color="#0d0a24"/><stop offset="0.06" stop-color="#080719"/><stop offset="0.1772" stop-color="#05050f"/><stop offset="1" stop-color="#04040a"/></linearGradient>
<linearGradient id="g2_48" gradientUnits="userSpaceOnUse" x1="117" y1="0" x2="800" y2="0"><stop offset="0" stop-color="#0e0a26"/><stop offset="0.0571" stop-color="#09071b"/><stop offset="0.1933" stop-color="#05050f"/><stop offset="1" stop-color="#04040a"/></linearGradient>
<linearGradient id="g2_49" gradientUnits="userSpaceOnUse" x1="117" y1="0" x2="800" y2="0"><stop offset="0" stop-color="#0f0a27"/><stop offset="0.0307" stop-color="#0b0920"/><stop offset="0.104" stop-color="#080717"/><stop offset="0.2592" stop-color="#05040d"/><stop offset="1" stop-color="#04040a"/></linearGradient>
<linearGradient id="g2_50" gradientUnits="userSpaceOnUse" x1="117" y1="0" x2="800" y2="0"><stop offset="0" stop-color="#0f0b29"/><stop offset="0.0688" stop-color="#0a081c"/><stop offset="0.2592" stop-color="#05040d"/><stop offset="1" stop-color="#04040a"/></linearGradient>
<linearGradient id="g2_51" gradientUnits="userSpaceOnUse" x1="117" y1="0" x2="800" y2="0"><stop offset="0" stop-color="#100b2b"/><stop offset="0.0527" stop-color="#0b0920"/><stop offset="0.2665" stop-color="#05040d"/><stop offset="1" stop-color="#04040a"/></linearGradient>
<linearGradient id="g2_52" gradientUnits="userSpaceOnUse" x1="117" y1="0" x2="800" y2="0"><stop offset="0" stop-color="#110b2d"/><stop offset="0.0688" stop-color="#0b0920"/><stop offset="0.284" stop-color="#05040d"/><stop offset="1" stop-color="#04040a"/></linearGradient>
<linearGradient id="g2_53" gradientUnits="userSpaceOnUse" x1="117" y1="0" x2="800" y2="0"><stop offset="0" stop-color="#120c2f"/><stop offset="0.0864" stop-color="#0b0920"/><stop offset="0.3031" stop-color="#05040d"/><stop offset="1" stop-color="#04040a"/></linearGradient>
<linearGradient id="g2_54" gradientUnits="userSpaceOnUse" x1="117" y1="0" x2="800" y2="0"><stop offset="0" stop-color="#130c31"/><stop offset="0.104" stop-color="#0b0920"/><stop offset="0.3265" stop-color="#05040d"/><stop offset="1" stop-color="#04040a"/></linearGradient>
<linearGradient id="g2_55" gradientUnits="userSpaceOnUse" x1="117" y1="0" x2="800" y2="0"><stop offset="0" stop-color="#150d35"/><stop offset="0.06" stop-color="#0e0a27"/><stop offset="0.3177" stop-color="#05050f"/><stop offset="1" stop-color="#04040a"/></linearGradient>
<linearGradient id="g2_56" gradientUnits="userSpaceOnUse" x1="117" y1="0" x2="800" y2="0"><stop offset="0" stop-color="#160d37"/><stop offset="0.0644" stop-color="#0f0b29"/><stop offset="0.3163" stop-color="#060510"/><stop offset="0.4861" stop-color="#05040b"/><stop offset="1" stop-color="#04040a"/></linearGradient>
<linearGradient id="g2_57" gradientUnits="userSpaceOnUse" x1="117" y1="0" x2="800" y2="0"><stop offset="0" stop-color="#170d38"/><stop offset="0.0425" stop-color="#120c2f"/><stop offset="0.1669" stop-color="#0b0920"/><stop offset="0.3163" stop-color="#060512"/><stop offset="0.4231" stop-color="#05040d"/><stop offset="1" stop-color="#04040a"/></linearGradient>
<linearGradient id="g2_58" gradientUnits="userSpaceOnUse" x1="117" y1="0" x2="800" y2="0"><stop offset="0" stop-color="#190e3c"/><stop offset="0.0483" stop-color="#130c31"/><stop offset="0.2577" stop-color="#080719"/><stop offset="0.4524" stop-color="#05040d"/><stop offset="1" stop-color="#04040a"/></linearGradient>
<linearGradient id="g2_59" gradientUnits="userSpaceOnUse" x1="117" y1="0" x2="800" y2="0"><stop offset="0" stop-color="#1a0e3e"/><stop offset="0.0556" stop-color="#140d33"/><stop offset="0.2635" stop-color="#09071b"/><stop offset="0.451" stop-color="#05050f"/><stop offset="0.5373" stop-color="#05040b"/><stop offset="1" stop-color="#04040a"/></linearGradient>
<linearGradient id="g2_60" gradientUnits="userSpaceOnUse" x1="117" y1="0" x2="800" y2="0"><stop offset="0" stop-color="#1d0e42"/><stop offset="0.0498" stop-color="#160d37"/><stop offset="0.2533" stop-color="#0b081e"/><stop offset="0.4539" stop-color="#060510"/><stop offset="0.5608" stop-color="#05040b"/><stop offset="1" stop-color="#04040a"/></linearGradient>
<linearGradient id="g2_61" gradientUnits="userSpaceOnUse" x1="117" y1="0" x2="800" y2="0"><stop offset="0" stop-color="#1f0e46"/><stop offset="0.0469" stop-color="#180e3a"/><stop offset="0.2621" stop-color="#0b0920"/><stop offset="0.4583" stop-color="#060512"/><stop offset="0.5359" stop-color="#060510"/><stop offset="0.5783" stop-color="#05040b"/><stop offset="1" stop-color="#04040a"/></linearGradient>
<linearGradient id="g2_62" gradientUnits="userSpaceOnUse" x1="117" y1="0" x2="800" y2="0"><stop offset="0" stop-color="#220e4a"/><stop offset="0.0454" stop-color="#1a0e3e"/><stop offset="0.2562" stop-color="#0d0a24"/><stop offset="0.4407" stop-color="#070615"/><stop offset="0.5403" stop-color="#060612"/><stop offset="0.5959" stop-color="#05040b"/><stop offset="1" stop-color="#04040a"/></linearGradient>
<linearGradient id="g2_63" gradientUnits="userSpaceOnUse" x1="117" y1="0" x2="800" y2="0"><stop offset="0" stop-color="#230e4c"/><stop offset="0.0439" stop-color="#1d0e42"/><stop offset="0.2884" stop-color="#0d0a24"/><stop offset="0.5476" stop-color="#070614"/><stop offset="0.6135" stop-color="#05040b"/><stop offset="1" stop-color="#04040a"/></linearGradient>
<linearGradient id="g2_64" gradientUnits="userSpaceOnUse" x1="117" y1="0" x2="800" y2="0"><stop offset="0" stop-color="#260d4f"/><stop offset="0.0439" stop-color="#1f0e46"/><stop offset="0.0805" stop-color="#1e0e44"/><stop offset="0.2694" stop-color="#0f0b29"/><stop offset="0.4436" stop-color="#09071b"/><stop offset="0.5359" stop-color="#080717"/><stop offset="0.6354" stop-color="#05040b"/><stop offset="1" stop-color="#04040a"/></linearGradient>
<linearGradient id="g2_65" gradientUnits="userSpaceOnUse" x1="117" y1="0" x2="800" y2="0"><stop offset="0" stop-color="#280d52"/><stop offset="0.0469" stop-color="#220e4a"/><stop offset="0.1157" stop-color="#1e0e44"/><stop offset="0.2723" stop-color="#110b2d"/><stop offset="0.4612" stop-color="#0a081c"/><stop offset="0.53" stop-color="#09081b"/><stop offset="0.6589" stop-color="#05040b"/><stop offset="1" stop-color="#04040a"/></linearGradient>
<linearGradient id="g2_66" gradientUnits="userSpaceOnUse" x1="117" y1="0" x2="800" y2="0"><stop offset="0" stop-color="#2d0c57"/><stop offset="0.0381" stop-color="#260d4f"/><stop offset="0.123" stop-color="#200e48"/><stop offset="0.2592" stop-color="#140d33"/><stop offset="0.4597" stop-color="#0b0920"/><stop offset="0.5286" stop-color="#0b081e"/><stop offset="0.6808" stop-color="#05040b"/><stop offset="1" stop-color="#04040a"/></linearGradient>
<linearGradient id="g2_67" gradientUnits="userSpaceOnUse" x1="117" y1="0" x2="800" y2="0"><stop offset="0" stop-color="#2f0c59"/><stop offset="0.0439" stop-color="#280d52"/><stop offset="0.1318" stop-color="#230e4c"/><stop offset="0.2679" stop-color="#160d37"/><stop offset="0.4656" stop-color="#0d0a24"/><stop offset="0.5315" stop-color="#0c0922"/><stop offset="0.6969" stop-color="#05040b"/><stop offset="1" stop-color="#04040a"/></linearGradient>
<linearGradient id="g2_68" gradientUnits="userSpaceOnUse" x1="117" y1="0" x2="800" y2="0"><stop offset="0" stop-color="#320c5b"/><stop offset="0.1303" stop-color="#270d51"/><stop offset="0.2635" stop-color="#190e3c"/><stop offset="0.366" stop-color="#150d35"/><stop offset="0.4524" stop-color="#0f0b29"/><stop offset="0.5373" stop-color="#0e0a25"/><stop offset="0.7145" stop-color="#05040b"/><stop offset="1" stop-color="#04040a"/></linearGradient>
<linearGradient id="g2_69" gradientUnits="userSpaceOnUse" x1="117" y1="0" x2="800" y2="0"><stop offset="0" stop-color="#360c5e"/><stop offset="0.0337" stop-color="#310c5a"/><stop offset="0.1449" stop-color="#2a0d54"/><stop offset="0.2635" stop-color="#1d0e42"/><stop offset="0.366" stop-color="#180e3a"/><stop offset="0.448" stop-color="#120c2f"/><stop offset="0.5329" stop-color="#100b2b"/><stop offset="0.6193" stop-color="#09071b"/><stop offset="0.6764" stop-color="#070615"/><stop offset="0.7306" stop-color="#05040b"/><stop offset="1" stop-color="#04040a"/></linearGradient>
<linearGradient id="g2_70" gradientUnits="userSpaceOnUse" x1="117" y1="0" x2="800" y2="0"><stop offset="0" stop-color="#3a0d60"/><stop offset="0.0337" stop-color="#350c5d"/><stop offset="0.1625" stop-color="#2d0c57"/><stop offset="0.2679" stop-color="#200e48"/><stop offset="0.3543" stop-color="#1d0e42"/><stop offset="0.448" stop-color="#150d35"/><stop offset="0.5329" stop-color="#130c31"/><stop offset="0.6135" stop-color="#0b0920"/><stop offset="0.6794" stop-color="#090719"/><stop offset="0.7379" stop-color="#05050d"/><stop offset="1" stop-color="#05050d"/></linearGradient>
<linearGradient id="g2_71" gradientUnits="userSpaceOnUse" x1="117" y1="0" x2="800" y2="0"><stop offset="0" stop-color="#3e0e62"/><stop offset="0.1698" stop-color="#310c5a"/><stop offset="0.3133" stop-color="#220e4a"/><stop offset="0.3646" stop-color="#200e48"/><stop offset="0.4539" stop-color="#180e3a"/><stop offset="0.5388" stop-color="#160d37"/><stop offset="0.612" stop-color="#0e0a26"/><stop offset="0.6764" stop-color="#0b081e"/><stop offset="0.7379" stop-color="#060510"/><stop offset="1" stop-color="#060510"/></linearGradient>
<linearGradient id="g2_72" gradientUnits="userSpaceOnUse" x1="117" y1="0" x2="800" y2="0"><stop offset="0" stop-color="#420f63"/><stop offset="0.1947" stop-color="#330c5c"/><stop offset="0.2577" stop-color="#2b0d55"/><stop offset="0.3514" stop-color="#270d51"/><stop offset="0.451" stop-color="#1d0e42"/><stop offset="0.5373" stop-color="#1a0e3e"/><stop offset="0.6149" stop-color="#100b2b"/><stop offset="0.6779" stop-color="#0d0a24"/><stop offset="0.7408" stop-color="#070614"/><stop offset="0.7892" stop-color="#080717"/><stop offset="0.8594" stop-color="#070614"/><stop offset="0.8873" stop-color="#080717"/><stop offset="1" stop-color="#070615"/></linearGradient>
<linearGradient id="g2_73" gradientUnits="userSpaceOnUse" x1="117" y1="0" x2="800" y2="0"><stop offset="0" stop-color="#461064"/><stop offset="0.1977" stop-color="#390d60"/><stop offset="0.2606" stop-color="#310c5a"/><stop offset="0.3587" stop-color="#2d0c57"/><stop offset="0.4539" stop-color="#220e4a"/><stop offset="0.5286" stop-color="#200e48"/><stop offset="0.6135" stop-color="#140d33"/><stop offset="0.6764" stop-color="#100b2b"/><stop offset="0.7408" stop-color="#080719"/><stop offset="0.7804" stop-color="#0a081c"/><stop offset="0.8741" stop-color="#09071b"/><stop offset="0.8931" stop-color="#0b081e"/><stop offset="1" stop-color="#0a081c"/></linearGradient>
<linearGradient id="g2_74" gradientUnits="userSpaceOnUse" x1="117" y1="0" x2="800" y2="0"><stop offset="0" stop-color="#4b1266"/><stop offset="0.0264" stop-color="#471165"/><stop offset="0.123" stop-color="#461064"/><stop offset="0.2562" stop-color="#370c5f"/><stop offset="0.3602" stop-color="#330c5c"/><stop offset="0.451" stop-color="#280d52"/><stop offset="0.53" stop-color="#270d51"/><stop offset="0.5608" stop-color="#230e4c"/><stop offset="0.6164" stop-color="#180e3a"/><stop offset="0.6808" stop-color="#140d33"/><stop offset="0.7394" stop-color="#0b0920"/><stop offset="0.795" stop-color="#0e0a25"/><stop offset="0.8682" stop-color="#0c0922"/><stop offset="0.9078" stop-color="#0f0b29"/><stop offset="1" stop-color="#0d0a24"/></linearGradient>
<linearGradient id="g2_75" gradientUnits="userSpaceOnUse" x1="117" y1="0" x2="800" y2="0"><stop offset="0" stop-color="#4e1466"/><stop offset="0.123" stop-color="#4c1366"/><stop offset="0.2592" stop-color="#3e0e62"/><stop offset="0.3572" stop-color="#3b0d61"/><stop offset="0.4553" stop-color="#2f0c59"/><stop offset="0.5388" stop-color="#2e0c58"/><stop offset="0.6208" stop-color="#1e0e44"/><stop offset="0.6779" stop-color="#1a0e3e"/><stop offset="0.7379" stop-color="#0f0b29"/><stop offset="0.7599" stop-color="#0f0b29"/><stop offset="0.7994" stop-color="#130c31"/><stop offset="0.8624" stop-color="#100b2b"/><stop offset="0.9004" stop-color="#150d35"/><stop offset="1" stop-color="#130c31"/></linearGradient>
<linearGradient id="g2_76" gradientUnits="userSpaceOnUse" x1="117" y1="0" x2="800" y2="0"><stop offset="0" stop-color="#531667"/><stop offset="0.1318" stop-color="#521667"/><stop offset="0.2562" stop-color="#461064"/><stop offset="0.3514" stop-color="#441064"/><stop offset="0.4568" stop-color="#370c5f"/><stop offset="0.5359" stop-color="#370c5f"/><stop offset="0.5754" stop-color="#310c5a"/><stop offset="0.6135" stop-color="#270d51"/><stop offset="0.6779" stop-color="#230e4c"/><stop offset="0.7379" stop-color="#150d35"/><stop offset="0.757" stop-color="#150d35"/><stop offset="0.795" stop-color="#1a0e3e"/><stop offset="0.8624" stop-color="#170d38"/><stop offset="0.9048" stop-color="#1f0e46"/><stop offset="0.9488" stop-color="#1c0e40"/><stop offset="1" stop-color="#1c0e40"/></linearGradient>
<linearGradient id="g2_77" gradientUnits="userSpaceOnUse" x1="117" y1="0" x2="800" y2="0"><stop offset="0" stop-color="#5a1967"/><stop offset="0.1332" stop-color="#5a1967"/><stop offset="0.2518" stop-color="#4e1466"/><stop offset="0.3587" stop-color="#4d1366"/><stop offset="0.4495" stop-color="#420f63"/><stop offset="0.5461" stop-color="#410f63"/><stop offset="0.6164" stop-color="#310c5a"/><stop offset="0.6808" stop-color="#2e0c58"/><stop offset="0.7438" stop-color="#1d0e42"/><stop offset="0.7994" stop-color="#270d51"/><stop offset="0.8668" stop-color="#230e4c"/><stop offset="0.9034" stop-color="#2e0c58"/><stop offset="1" stop-color="#280d52"/></linearGradient>
<linearGradient id="g2_78" gradientUnits="userSpaceOnUse" x1="117" y1="0" x2="800" y2="0"><stop offset="0" stop-color="#601b68"/><stop offset="0.1318" stop-color="#621c68"/><stop offset="0.2592" stop-color="#571867"/><stop offset="0.3587" stop-color="#581867"/><stop offset="0.4539" stop-color="#4c1366"/><stop offset="0.5344" stop-color="#4e1466"/><stop offset="0.6135" stop-color="#3e0e62"/><stop offset="0.6764" stop-color="#3e0e62"/><stop offset="0.7467" stop-color="#2a0d54"/><stop offset="0.8009" stop-color="#390d60"/><stop offset="0.8653" stop-color="#330c5c"/><stop offset="0.9048" stop-color="#420f63"/><stop offset="0.9561" stop-color="#3b0d61"/><stop offset="1" stop-color="#3b0d61"/></linearGradient>
<linearGradient id="g2_79" gradientUnits="userSpaceOnUse" x1="117" y1="0" x2="800" y2="0"><stop offset="0" stop-color="#661d68"/><stop offset="0.1274" stop-color="#6c2067"/><stop offset="0.2562" stop-color="#621c68"/><stop offset="0.3558" stop-color="#661d68"/><stop offset="0.4568" stop-color="#581867"/><stop offset="0.5359" stop-color="#5d1a68"/><stop offset="0.6164" stop-color="#4c1366"/><stop offset="0.6779" stop-color="#501466"/><stop offset="0.7408" stop-color="#3d0d62"/><stop offset="0.7511" stop-color="#3d0d62"/><stop offset="0.8009" stop-color="#4e1466"/><stop offset="0.8638" stop-color="#481165"/><stop offset="0.9063" stop-color="#5b1967"/><stop offset="0.9575" stop-color="#521667"/><stop offset="1" stop-color="#521667"/></linearGradient>
<linearGradient id="g2_80" gradientUnits="userSpaceOnUse" x1="117" y1="0" x2="800" y2="0"><stop offset="0" stop-color="#6e2067"/><stop offset="0.0351" stop-color="#6e2067"/><stop offset="0.1201" stop-color="#782366"/><stop offset="0.2474" stop-color="#702167"/><stop offset="0.3587" stop-color="#772367"/><stop offset="0.4553" stop-color="#691e68"/><stop offset="0.5329" stop-color="#722167"/><stop offset="0.612" stop-color="#601b68"/><stop offset="0.6794" stop-color="#671e68"/><stop offset="0.7482" stop-color="#521667"/><stop offset="0.7994" stop-color="#6a1f68"/><stop offset="0.8638" stop-color="#621c68"/><stop offset="0.9063" stop-color="#7c2566"/><stop offset="0.9575" stop-color="#702167"/><stop offset="1" stop-color="#702167"/></linearGradient>
<linearGradient id="g2_81" gradientUnits="userSpaceOnUse" x1="117" y1="0" x2="800" y2="0"><stop offset="0" stop-color="#752367"/><stop offset="0.0395" stop-color="#782366"/><stop offset="0.1171" stop-color="#852864"/><stop offset="0.2665" stop-color="#812665"/><stop offset="0.3455" stop-color="#8d2a62"/><stop offset="0.4568" stop-color="#7d2566"/><stop offset="0.5315" stop-color="#8d2a62"/><stop offset="0.612" stop-color="#792466"/><stop offset="0.6779" stop-color="#892963"/><stop offset="0.7482" stop-color="#702167"/><stop offset="0.8009" stop-color="#922c61"/><stop offset="0.8624" stop-color="#862864"/><stop offset="0.9063" stop-color="#a93558"/><stop offset="0.9575" stop-color="#9a2f5e"/><stop offset="1" stop-color="#9a2f5e"/></linearGradient>
<linearGradient id="g2_82" gradientUnits="userSpaceOnUse" x1="117" y1="0" x2="800" y2="0"><stop offset="0" stop-color="#802665"/><stop offset="0.0249" stop-color="#812665"/><stop offset="0.0776" stop-color="#8e2b62"/><stop offset="0.1303" stop-color="#962d60"/><stop offset="0.2635" stop-color="#962d60"/><stop offset="0.347" stop-color="#a93558"/><stop offset="0.4597" stop-color="#9a2f5e"/><stop offset="0.5286" stop-color="#b03a54"/><stop offset="0.6179" stop-color="#9d305d"/><stop offset="0.6779" stop-color="#b63e51"/><stop offset="0.7482" stop-color="#9b2f5e"/><stop offset="0.7789" stop-color="#b43d52"/><stop offset="0.8009" stop-color="#c14d4a"/><stop offset="0.8624" stop-color="#b63e51"/><stop offset="0.9004" stop-color="#932c61"/><stop offset="0.9078" stop-color="#8e2d66"/><stop offset="0.959" stop-color="#8c3c84"/><stop offset="1" stop-color="#8c3c84"/></linearGradient>
<linearGradient id="g2_83" gradientUnits="userSpaceOnUse" x1="117" y1="0" x2="800" y2="0"><stop offset="0" stop-color="#8a2963"/><stop offset="0.0381" stop-color="#912b61"/><stop offset="0.0805" stop-color="#9f315c"/><stop offset="0.1259" stop-color="#a93558"/><stop offset="0.2606" stop-color="#af3955"/><stop offset="0.3148" stop-color="#bf4a4b"/><stop offset="0.3499" stop-color="#c45549"/><stop offset="0.4583" stop-color="#bb444e"/><stop offset="0.4949" stop-color="#c55849"/><stop offset="0.53" stop-color="#c96f4f"/><stop offset="0.5593" stop-color="#c9694c"/><stop offset="0.6164" stop-color="#c3524a"/><stop offset="0.6428" stop-color="#c9694c"/><stop offset="0.6764" stop-color="#cb845a"/><stop offset="0.7174" stop-color="#c96c4d"/><stop offset="0.7526" stop-color="#c55849"/><stop offset="0.7701" stop-color="#bc464d"/><stop offset="0.7936" stop-color="#aa3658"/><stop offset="0.8009" stop-color="#a5355e"/><stop offset="0.8624" stop-color="#a14483"/><stop offset="0.9004" stop-color="#8b4898"/><stop offset="0.9107" stop-color="#864698"/><stop offset="0.959" stop-color="#804397"/><stop offset="1" stop-color="#804397"/></linearGradient>
<linearGradient id="g2_84" gradientUnits="userSpaceOnUse" x1="117" y1="0" x2="800" y2="0"><stop offset="0" stop-color="#972e5f"/><stop offset="0.0644" stop-color="#aa3657"/><stop offset="0.1215" stop-color="#bc464d"/><stop offset="0.2577" stop-color="#c55749"/><stop offset="0.2899" stop-color="#c96c4d"/><stop offset="0.3163" stop-color="#cb8158"/><stop offset="0.3514" stop-color="#cb9365"/><stop offset="0.4568" stop-color="#cb7f57"/><stop offset="0.4876" stop-color="#cb9c6c"/><stop offset="0.5315" stop-color="#c9c796"/><stop offset="0.5652" stop-color="#cabf8d"/><stop offset="0.6149" stop-color="#cba675"/><stop offset="0.6354" stop-color="#cb845a"/><stop offset="0.6515" stop-color="#c96a4d"/><stop offset="0.6676" stop-color="#c3524a"/><stop offset="0.6779" stop-color="#be4852"/><stop offset="0.7496" stop-color="#b54c7d"/><stop offset="0.7921" stop-color="#994d98"/><stop offset="0.8038" stop-color="#934b98"/><stop offset="0.8594" stop-color="#8c4898"/><stop offset="0.9048" stop-color="#994d98"/><stop offset="0.9561" stop-color="#904a98"/><stop offset="1" stop-color="#904a98"/></linearGradient>
<linearGradient id="g2_85" gradientUnits="userSpaceOnUse" x1="117" y1="0" x2="800" y2="0"><stop offset="0" stop-color="#a4335a"/><stop offset="0.0571" stop-color="#b84050"/><stop offset="0.104" stop-color="#c55849"/><stop offset="0.1201" stop-color="#c8634b"/><stop offset="0.1903" stop-color="#cb7b55"/><stop offset="0.2562" stop-color="#cb8b5f"/><stop offset="0.2884" stop-color="#cbaa79"/><stop offset="0.3148" stop-color="#c9ca99"/><stop offset="0.4656" stop-color="#c9ca99"/><stop offset="0.5066" stop-color="#cb8e61"/><stop offset="0.5212" stop-color="#cb7954"/><stop offset="0.53" stop-color="#cb6d51"/><stop offset="0.5783" stop-color="#d06361"/><stop offset="0.6164" stop-color="#d05e72"/><stop offset="0.6369" stop-color="#be5483"/><stop offset="0.6676" stop-color="#a55197"/><stop offset="0.6764" stop-color="#9d4e98"/><stop offset="0.6852" stop-color="#9c4e98"/><stop offset="0.7482" stop-color="#994d98"/><stop offset="0.7994" stop-color="#b15596"/><stop offset="0.8624" stop-color="#a85297"/><stop offset="0.9063" stop-color="#cd5e8e"/><stop offset="0.9575" stop-color="#c05992"/><stop offset="1" stop-color="#c05992"/></linearGradient>
<linearGradient id="g2_86" gradientUnits="userSpaceOnUse" x1="117" y1="0" x2="800" y2="0"><stop offset="0" stop-color="#a5345a"/><stop offset="0.0366" stop-color="#b9424f"/><stop offset="0.0615" stop-color="#c45549"/><stop offset="0.0864" stop-color="#c96a4d"/><stop offset="0.1215" stop-color="#cb8b5f"/><stop offset="0.1669" stop-color="#cba474"/><stop offset="0.2357" stop-color="#c9ca99"/><stop offset="0.2782" stop-color="#c9c997"/><stop offset="0.3163" stop-color="#cbad7c"/><stop offset="0.3411" stop-color="#cc8d61"/><stop offset="0.3529" stop-color="#cd7f5a"/><stop offset="0.4568" stop-color="#dd706f"/><stop offset="0.4729" stop-color="#d56377"/><stop offset="0.489" stop-color="#c85a83"/><stop offset="0.5198" stop-color="#ad5396"/><stop offset="0.5315" stop-color="#a15098"/><stop offset="0.6149" stop-color="#9e4f98"/><stop offset="0.6779" stop-color="#cd5e8e"/><stop offset="0.7482" stop-color="#c45b91"/><stop offset="0.7804" stop-color="#e46a83"/><stop offset="0.8009" stop-color="#f37d7a"/><stop offset="0.8624" stop-color="#eb717f"/><stop offset="0.8858" stop-color="#f78579"/><stop offset="0.9078" stop-color="#fc9c7d"/><stop offset="0.9575" stop-color="#f88879"/><stop offset="1" stop-color="#f88879"/></linearGradient>
<linearGradient id="g2_87" gradientUnits="userSpaceOnUse" x1="117" y1="0" x2="800" y2="0"><stop offset="0" stop-color="#a73459"/><stop offset="0.0556" stop-color="#b63e51"/><stop offset="0.1025" stop-color="#b8414f"/><stop offset="0.1215" stop-color="#b74155"/><stop offset="0.2108" stop-color="#d06364"/><stop offset="0.2592" stop-color="#db6d6f"/><stop offset="0.3016" stop-color="#cd5c81"/><stop offset="0.3367" stop-color="#b35595"/><stop offset="0.3514" stop-color="#a65197"/><stop offset="0.4568" stop-color="#a45097"/><stop offset="0.4993" stop-color="#d05f8d"/><stop offset="0.5315" stop-color="#ea7080"/><stop offset="0.5549" stop-color="#e56b83"/><stop offset="0.6164" stop-color="#e46a83"/><stop offset="0.634" stop-color="#f1797b"/><stop offset="0.6486" stop-color="#f98b79"/><stop offset="0.6603" stop-color="#fc9b7d"/><stop offset="0.6779" stop-color="#feb489"/><stop offset="0.7496" stop-color="#fdaa84"/><stop offset="0.8009" stop-color="#fedfad"/><stop offset="0.8624" stop-color="#fed3a2"/><stop offset="0.9063" stop-color="#fdf6c3"/><stop offset="0.9575" stop-color="#fee5b2"/><stop offset="1" stop-color="#fee5b2"/></linearGradient>
<linearGradient id="g2_88" gradientUnits="userSpaceOnUse" x1="117" y1="0" x2="800" y2="0"><stop offset="0" stop-color="#733486"/><stop offset="0.0366" stop-color="#833e8d"/><stop offset="0.0747" stop-color="#8e4693"/><stop offset="0.1245" stop-color="#8b4898"/><stop offset="0.2035" stop-color="#9a4d98"/><stop offset="0.2562" stop-color="#a04f98"/><stop offset="0.2738" stop-color="#aa5397"/><stop offset="0.3119" stop-color="#d05f8d"/><stop offset="0.3324" stop-color="#e66c82"/><stop offset="0.3558" stop-color="#f58179"/><stop offset="0.4217" stop-color="#f98e7a"/><stop offset="0.4583" stop-color="#fa917a"/><stop offset="0.4744" stop-color="#fc9c7d"/><stop offset="0.5051" stop-color="#feb489"/><stop offset="0.5315" stop-color="#fecc9b"/><stop offset="0.5608" stop-color="#fecc9b"/><stop offset="0.6164" stop-color="#fed8a6"/><stop offset="0.6442" stop-color="#fdedba"/><stop offset="0.6618" stop-color="#fcfdcb"/><stop offset="1" stop-color="#fcfdcb"/></linearGradient>
<linearGradient id="g2_89" gradientUnits="userSpaceOnUse" x1="117" y1="0" x2="800" y2="0"><stop offset="0" stop-color="#533c7d"/><stop offset="0.022" stop-color="#613a8c"/><stop offset="0.0425" stop-color="#6d3c92"/><stop offset="0.1332" stop-color="#994d98"/><stop offset="0.2079" stop-color="#bc5893"/><stop offset="0.2518" stop-color="#d5628b"/><stop offset="0.2855" stop-color="#e96f80"/><stop offset="0.3177" stop-color="#f78579"/><stop offset="0.3719" stop-color="#fc9e7e"/><stop offset="0.4422" stop-color="#febe91"/><stop offset="0.4861" stop-color="#fed3a2"/><stop offset="0.571" stop-color="#fcfdcb"/><stop offset="1" stop-color="#fcfdcb"/></linearGradient>
<linearGradient id="g2_90" gradientUnits="userSpaceOnUse" x1="117" y1="0" x2="800" y2="0"><stop offset="0" stop-color="#533c7d"/><stop offset="0.022" stop-color="#613a8c"/><stop offset="0.0425" stop-color="#6d3c92"/><stop offset="0.1318" stop-color="#994d98"/><stop offset="0.2079" stop-color="#bd5993"/><stop offset="0.2504" stop-color="#d6628a"/><stop offset="0.284" stop-color="#ea7080"/><stop offset="0.3177" stop-color="#f78779"/><stop offset="0.3602" stop-color="#fc997c"/><stop offset="0.4187" stop-color="#feb58a"/><stop offset="0.4905" stop-color="#fed9a7"/><stop offset="0.5564" stop-color="#fcfdcb"/><stop offset="1" stop-color="#fcfdcb"/></linearGradient>
</defs>
<rect width="910" height="790" fill="#fff"/>
<g transform="translate(0,31.7)">
<rect x="75" y="0.3" width="42.5" height="182" fill="url(#src)"/>
<rect x="117" y="0.3" width="683" height="1.3" fill="url(#g0_0)"/>
<rect x="117" y="1" width="683" height="1.6" fill="url(#g0_1)"/>
<rect x="117" y="2" width="683" height="1.6" fill="url(#g0_2)"/>
<rect x="117" y="3" width="683" height="1.6" fill="url(#g0_3)"/>
<rect x="117" y="4" width="683" height="1.6" fill="url(#g0_4)"/>
<rect x="117" y="5" width="683" height="1.6" fill="url(#g0_5)"/>
<rect x="117" y="6" width="683" height="1.6" fill="url(#g0_6)"/>
<rect x="117" y="7" width="683" height="1.6" fill="url(#g0_7)"/>
<rect x="117" y="8" width="683" height="1.6" fill="url(#g0_8)"/>
<rect x="117" y="9" width="683" height="1.6" fill="url(#g0_9)"/>
<rect x="117" y="10" width="683" height="1.6" fill="url(#g0_10)"/>
<rect x="117" y="11" width="683" height="1.6" fill="url(#g0_11)"/>
<rect x="117" y="12" width="683" height="1.6" fill="url(#g0_12)"/>
<rect x="117" y="13" width="683" height="1.6" fill="url(#g0_13)"/>
<rect x="117" y="14" width="683" height="1.6" fill="url(#g0_14)"/>
<rect x="117" y="15" width="683" height="1.6" fill="url(#g0_15)"/>
<rect x="117" y="16" width="683" height="1.6" fill="url(#g0_16)"/>
<rect x="117" y="17" width="683" height="1.6" fill="url(#g0_17)"/>
<rect x="117" y="18" width="683" height="1.6" fill="url(#g0_18)"/>
<rect x="117" y="19" width="683" height="1.6" fill="url(#g0_19)"/>
<rect x="117" y="20" width="683" height="1.6" fill="url(#g0_20)"/>
<rect x="117" y="21" width="683" height="1.6" fill="url(#g0_21)"/>
<rect x="117" y="22" width="683" height="1.6" fill="url(#g0_22)"/>
<rect x="117" y="23" width="683" height="1.6" fill="url(#g0_23)"/>
<rect x="117" y="24" width="683" height="1.6" fill="url(#g0_24)"/>
<rect x="117" y="25" width="683" height="1.6" fill="url(#g0_25)"/>
<rect x="117" y="26" width="683" height="1.6" fill="url(#g0_26)"/>
<rect x="117" y="27" width="683" height="1.6" fill="url(#g0_27)"/>
<rect x="117" y="28" width="683" height="1.6" fill="url(#g0_28)"/>
<rect x="117" y="29" width="683" height="1.6" fill="url(#g0_29)"/>
<rect x="117" y="30" width="683" height="1.6" fill="url(#g0_30)"/>
<rect x="117" y="31" width="683" height="1.6" fill="url(#g0_31)"/>
<rect x="117" y="32" width="683" height="1.6" fill="url(#g0_32)"/>
<rect x="117" y="33" width="683" height="1.6" fill="url(#g0_33)"/>
<rect x="117" y="34" width="683" height="1.6" fill="url(#g0_34)"/>
<rect x="117" y="35" width="683" height="1.6" fill="url(#g0_35)"/>
<rect x="117" y="36" width="683" height="1.6" fill="url(#g0_36)"/>
<rect x="117" y="37" width="683" height="1.6" fill="url(#g0_37)"/>
<rect x="117" y="38" width="683" height="1.6" fill="url(#g0_38)"/>
<rect x="117" y="39" width="683" height="1.6" fill="url(#g0_39)"/>
<rect x="117" y="40" width="683" height="1.6" fill="url(#g0_40)"/>
<rect x="117" y="41" width="683" height="1.6" fill="url(#g0_41)"/>
<rect x="117" y="42" width="683" height="1.6" fill="url(#g0_42)"/>
<rect x="117" y="43" width="683" height="1.6" fill="url(#g0_43)"/>
<rect x="117" y="44" width="683" height="1.6" fill="url(#g0_44)"/>
<rect x="117" y="45" width="683" height="1.6" fill="url(#g0_45)"/>
<rect x="117" y="46" width="683" height="1.6" fill="url(#g0_46)"/>
<rect x="117" y="47" width="683" height="1.6" fill="url(#g0_47)"/>
<rect x="117" y="48" width="683" height="1.6" fill="url(#g0_48)"/>
<rect x="117" y="49" width="683" height="1.6" fill="url(#g0_49)"/>
<rect x="117" y="50" width="683" height="1.6" fill="url(#g0_50)"/>
<rect x="117" y="51" width="683" height="1.6" fill="url(#g0_51)"/>
<rect x="117" y="52" width="683" height="1.6" fill="url(#g0_52)"/>
<rect x="117" y="53" width="683" height="1.6" fill="url(#g0_53)"/>
<rect x="117" y="54" width="683" height="1.6" fill="url(#g0_54)"/>
<rect x="117" y="55" width="683" height="1.6" fill="url(#g0_55)"/>
<rect x="117" y="56" width="683" height="1.6" fill="url(#g0_56)"/>
<rect x="117" y="57" width="683" height="1.6" fill="url(#g0_57)"/>
<rect x="117" y="58" width="683" height="1.6" fill="url(#g0_58)"/>
<rect x="117" y="59" width="683" height="1.6" fill="url(#g0_59)"/>
<rect x="117" y="60" width="683" height="1.6" fill="url(#g0_60)"/>
<rect x="117" y="61" width="683" height="1.6" fill="url(#g0_61)"/>
<rect x="117" y="62" width="683" height="1.6" fill="url(#g0_62)"/>
<rect x="117" y="63" width="683" height="1.6" fill="url(#g0_63)"/>
<rect x="117" y="64" width="683" height="1.6" fill="url(#g0_64)"/>
<rect x="117" y="65" width="683" height="1.6" fill="url(#g0_65)"/>
<rect x="117" y="66" width="683" height="1.6" fill="url(#g0_66)"/>
<rect x="117" y="67" width="683" height="1.6" fill="url(#g0_67)"/>
<rect x="117" y="68" width="683" height="1.6" fill="url(#g0_68)"/>
<rect x="117" y="69" width="683" height="1.6" fill="url(#g0_69)"/>
<rect x="117" y="70" width="683" height="1.6" fill="url(#g0_70)"/>
<rect x="117" y="71" width="683" height="1.6" fill="url(#g0_71)"/>
<rect x="117" y="72" width="683" height="1.6" fill="url(#g0_72)"/>
<rect x="117" y="73" width="683" height="1.6" fill="url(#g0_73)"/>
<rect x="117" y="74" width="683" height="1.6" fill="url(#g0_74)"/>
<rect x="117" y="75" width="683" height="1.6" fill="url(#g0_75)"/>
<rect x="117" y="76" width="683" height="1.6" fill="url(#g0_76)"/>
<rect x="117" y="77" width="683" height="1.6" fill="url(#g0_77)"/>
<rect x="117" y="78" width="683" height="1.6" fill="url(#g0_78)"/>
<rect x="117" y="79" width="683" height="1.6" fill="url(#g0_79)"/>
<rect x="117" y="80" width="683" height="1.6" fill="url(#g0_80)"/>
<rect x="117" y="81" width="683" height="1.6" fill="url(#g0_81)"/>
<rect x="117" y="82" width="683" height="1.6" fill="url(#g0_82)"/>
<rect x="117" y="83" width="683" height="1.6" fill="url(#g0_83)"/>
<rect x="117" y="84" width="683" height="1.6" fill="url(#g0_84)"/>
<rect x="117" y="85" width="683" height="1.6" fill="url(#g0_85)"/>
<rect x="117" y="86" width="683" height="1.6" fill="url(#g0_86)"/>
<rect x="117" y="87" width="683" height="1.6" fill="url(#g0_87)"/>
<rect x="117" y="88" width="683" height="1.6" fill="url(#g0_88)"/>
<rect x="117" y="89" width="683" height="1.6" fill="url(#g0_89)"/>
<rect x="117" y="90" width="683" height="1.6" fill="url(#g0_90)"/>
<rect x="117" y="91" width="683" height="1.6" fill="url(#g0_90)"/>
<rect x="117" y="92" width="683" height="1.6" fill="url(#g0_89)"/>
<rect x="117" y="93" width="683" height="1.6" fill="url(#g0_88)"/>
<rect x="117" y="94" width="683" height="1.6" fill="url(#g0_87)"/>
<rect x="117" y="95" width="683" height="1.6" fill="url(#g0_86)"/>
<rect x="117" y="96" width="683" height="1.6" fill="url(#g0_85)"/>
<rect x="117" y="97" width="683" height="1.6" fill="url(#g0_84)"/>
<rect x="117" y="98" width="683" height="1.6" fill="url(#g0_83)"/>
<rect x="117" y="99" width="683" height="1.6" fill="url(#g0_82)"/>
<rect x="117" y="100" width="683" height="1.6" fill="url(#g0_81)"/>
<rect x="117" y="101" width="683" height="1.6" fill="url(#g0_80)"/>
<rect x="117" y="102" width="683" height="1.6" fill="url(#g0_79)"/>
<rect x="117" y="103" width="683" height="1.6" fill="url(#g0_78)"/>
<rect x="117" y="104" width="683" height="1.6" fill="url(#g0_77)"/>
<rect x="117" y="105" width="683" height="1.6" fill="url(#g0_76)"/>
<rect x="117" y="106" width="683" height="1.6" fill="url(#g0_75)"/>
<rect x="117" y="107" width="683" height="1.6" fill="url(#g0_74)"/>
<rect x="117" y="108" width="683" height="1.6" fill="url(#g0_73)"/>
<rect x="117" y="109" width="683" height="1.6" fill="url(#g0_72)"/>
<rect x="117" y="110" width="683" height="1.6" fill="url(#g0_71)"/>
<rect x="117" y="111" width="683" height="1.6" fill="url(#g0_70)"/>
<rect x="117" y="112" width="683" height="1.6" fill="url(#g0_69)"/>
<rect x="117" y="113" width="683" height="1.6" fill="url(#g0_68)"/>
<rect x="117" y="114" width="683" height="1.6" fill="url(#g0_67)"/>
<rect x="117" y="115" width="683" height="1.6" fill="url(#g0_66)"/>
<rect x="117" y="116" width="683" height="1.6" fill="url(#g0_65)"/>
<rect x="117" y="117" width="683" height="1.6" fill="url(#g0_64)"/>
<rect x="117" y="118" width="683" height="1.6" fill="url(#g0_63)"/>
<rect x="117" y="119" width="683" height="1.6" fill="url(#g0_62)"/>
<rect x="117" y="120" width="683" height="1.6" fill="url(#g0_61)"/>
<rect x="117" y="121" width="683" height="1.6" fill="url(#g0_60)"/>
<rect x="117" y="122" width="683" height="1.6" fill="url(#g0_59)"/>
<rect x="117" y="123" width="683" height="1.6" fill="url(#g0_58)"/>
<rect x="117" y="124" width="683" height="1.6" fill="url(#g0_57)"/>
<rect x="117" y="125" width="683" height="1.6" fill="url(#g0_56)"/>
<rect x="117" y="126" width="683" height="1.6" fill="url(#g0_55)"/>
<rect x="117" y="127" width="683" height="1.6" fill="url(#g0_54)"/>
<rect x="117" y="128" width="683" height="1.6" fill="url(#g0_53)"/>
<rect x="117" y="129" width="683" height="1.6" fill="url(#g0_52)"/>
<rect x="117" y="130" width="683" height="1.6" fill="url(#g0_51)"/>
<rect x="117" y="131" width="683" height="1.6" fill="url(#g0_50)"/>
<rect x="117" y="132" width="683" height="1.6" fill="url(#g0_49)"/>
<rect x="117" y="133" width="683" height="1.6" fill="url(#g0_48)"/>
<rect x="117" y="134" width="683" height="1.6" fill="url(#g0_47)"/>
<rect x="117" y="135" width="683" height="1.6" fill="url(#g0_46)"/>
<rect x="117" y="136" width="683" height="1.6" fill="url(#g0_45)"/>
<rect x="117" y="137" width="683" height="1.6" fill="url(#g0_44)"/>
<rect x="117" y="138" width="683" height="1.6" fill="url(#g0_43)"/>
<rect x="117" y="139" width="683" height="1.6" fill="url(#g0_42)"/>
<rect x="117" y="140" width="683" height="1.6" fill="url(#g0_41)"/>
<rect x="117" y="141" width="683" height="1.6" fill="url(#g0_40)"/>
<rect x="117" y="142" width="683" height="1.6" fill="url(#g0_39)"/>
<rect x="117" y="143" width="683" height="1.6" fill="url(#g0_38)"/>
<rect x="117" y="144" width="683" height="1.6" fill="url(#g0_37)"/>
<rect x="117" y="145" width="683" height="1.6" fill="url(#g0_36)"/>
<rect x="117" y="146" width="683" height="1.6" fill="url(#g0_35)"/>
<rect x="117" y="147" width="683" height="1.6" fill="url(#g0_34)"/>
<rect x="117" y="148" width="683" height="1.6" fill="url(#g0_33)"/>
<rect x="117" y="149" width="683" height="1.6" fill="url(#g0_32)"/>
<rect x="117" y="150" width="683" height="1.6" fill="url(#g0_31)"/>
<rect x="117" y="151" width="683" height="1.6" fill="url(#g0_30)"/>
<rect x="117" y="152" width="683" height="1.6" fill="url(#g0_29)"/>
<rect x="117" y="153" width="683" height="1.6" fill="url(#g0_28)"/>
<rect x="117" y="154" width="683" height="1.6" fill="url(#g0_27)"/>
<rect x="117" y="155" width="683" height="1.6" fill="url(#g0_26)"/>
<rect x="117" y="156" width="683" height="1.6" fill="url(#g0_25)"/>
<rect x="117" y="157" width="683" height="1.6" fill="url(#g0_24)"/>
<rect x="117" y="158" width="683" height="1.6" fill="url(#g0_23)"/>
<rect x="117" y="159" width="683" height="1.6" fill="url(#g0_22)"/>
<rect x="117" y="160" width="683" height="1.6" fill="url(#g0_21)"/>
<rect x="117" y="161" width="683" height="1.6" fill="url(#g0_20)"/>
<rect x="117" y="162" width="683" height="1.6" fill="url(#g0_19)"/>
<rect x="117" y="163" width="683" height="1.6" fill="url(#g0_18)"/>
<rect x="117" y="164" width="683" height="1.6" fill="url(#g0_17)"/>
<rect x="117" y="165" width="683" height="1.6" fill="url(#g0_16)"/>
<rect x="117" y="166" width="683" height="1.6" fill="url(#g0_15)"/>
<rect x="117" y="167" width="683" height="1.6" fill="url(#g0_14)"/>
<rect x="117" y="168" width="683" height="1.6" fill="url(#g0_13)"/>
<rect x="117" y="169" width="683" height="1.6" fill="url(#g0_12)"/>
<rect x="117" y="170" width="683" height="1.6" fill="url(#g0_11)"/>
<rect x="117" y="171" width="683" height="1.6" fill="url(#g0_10)"/>
<rect x="117" y="172" width="683" height="1.6" fill="url(#g0_9)"/>
<rect x="117" y="173" width="683" height="1.6" fill="url(#g0_8)"/>
<rect x="117" y="174" width="683" height="1.6" fill="url(#g0_7)"/>
<rect x="117" y="175" width="683" height="1.6" fill="url(#g0_6)"/>
<rect x="117" y="176" width="683" height="1.6" fill="url(#g0_5)"/>
<rect x="117" y="177" width="683" height="1.6" fill="url(#g0_4)"/>
<rect x="117" y="178" width="683" height="1.6" fill="url(#g0_3)"/>
<rect x="117" y="179" width="683" height="1.6" fill="url(#g0_2)"/>
<rect x="117" y="180" width="683" height="1.6" fill="url(#g0_1)"/>
<rect x="117" y="181" width="683" height="1.3" fill="url(#g0_0)"/>
<rect x="115.6" y="88.35" width="1.4" height="5.3" fill="#9090d8" fill-opacity="0.18"/>
</g>
<rect x="75.5" y="32.5" width="724" height="181" fill="none" stroke="#000" stroke-width="1"/>
<g font-family="Liberation Sans, sans-serif" font-size="14.1" fill="#000" stroke="#000" stroke-width="0.25" opacity="0.999"><path d="M78.5 214v4.6" stroke="#000" stroke-width="1"/>
<text x="78.4" y="234.2" text-anchor="middle" textLength="29" lengthAdjust="spacingAndGlyphs">0.00</text>
<path d="M206.5 214v4.6" stroke="#000" stroke-width="1"/>
<text x="206.4" y="234.2" text-anchor="middle" textLength="29" lengthAdjust="spacingAndGlyphs">5.00</text>
<path d="M334.5 214v4.6" stroke="#000" stroke-width="1"/>
<text x="334.4" y="234.2" text-anchor="middle" textLength="37.9" lengthAdjust="spacingAndGlyphs">10.00</text>
<path d="M462.5 214v4.6" stroke="#000" stroke-width="1"/>
<text x="462.4" y="234.2" text-anchor="middle" textLength="37.9" lengthAdjust="spacingAndGlyphs">15.00</text>
<path d="M590.5 214v4.6" stroke="#000" stroke-width="1"/>
<text x="590.4" y="234.2" text-anchor="middle" textLength="37.8" lengthAdjust="spacingAndGlyphs">20.00</text>
<path d="M718.5 214v4.6" stroke="#000" stroke-width="1"/>
<text x="718.4" y="234.2" text-anchor="middle" textLength="37.8" lengthAdjust="spacingAndGlyphs">25.00</text>
<path d="M75 54.5h-4.6" stroke="#000" stroke-width="1"/>
<text x="64.6" y="59.93" text-anchor="end" textLength="29" lengthAdjust="spacingAndGlyphs">2.00</text>
<path d="M75 89h-4.6" stroke="#000" stroke-width="1"/>
<text x="64.6" y="94" text-anchor="end" textLength="29" lengthAdjust="spacingAndGlyphs">1.00</text>
<path d="M75 123.5h-4.6" stroke="#000" stroke-width="1"/>
<text x="64.6" y="128.07" text-anchor="end" textLength="29" lengthAdjust="spacingAndGlyphs">0.00</text>
<path d="M75 157.5h-4.6" stroke="#000" stroke-width="1"/>
<text x="64.6" y="162.14" text-anchor="end" textLength="34.2" lengthAdjust="spacingAndGlyphs">-1.00</text>
<path d="M75 191.5h-4.6" stroke="#000" stroke-width="1"/>
<text x="64.6" y="196.21" text-anchor="end" textLength="34.2" lengthAdjust="spacingAndGlyphs">-2.00</text>
<text x="436.8" y="253.8" text-anchor="middle" textLength="45.8" lengthAdjust="spacingAndGlyphs">x (µm)</text>
<text transform="translate(20.4,124) rotate(-90)" text-anchor="middle" textLength="44.4" lengthAdjust="spacingAndGlyphs">y (µm)</text>
<rect x="844.2" y="40.27" width="9.1" height="165.46" fill="url(#cb)"/>
<path d="M848.75 32L853.3 40.77H844.2Z" fill="#fcfdbf"/>
<path d="M848.75 214L853.3 205.23H844.2Z" fill="#000004"/>
<path d="M848.75 32L853.3 40.27V205.73L848.75 214L844.2 205.73V40.27Z" fill="none" stroke="#000" stroke-width="1.1" stroke-linejoin="miter"/>
<path d="M853.3 85.5h4.9" stroke="#000" stroke-width="1"/>
<text x="863.8" y="90.5" textLength="15.9" lengthAdjust="spacingAndGlyphs">40</text>
<path d="M853.3 146.5h4.9" stroke="#000" stroke-width="1"/>
<text x="863.8" y="151.4" textLength="15.9" lengthAdjust="spacingAndGlyphs">20</text>
<text transform="translate(898,125.3) rotate(-90)" text-anchor="middle" textLength="24.6" lengthAdjust="spacingAndGlyphs">|Ey|</text>
<text x="437.5" y="23.7" font-size="18" stroke-width="0.1" text-anchor="middle" textLength="45" lengthAdjust="spacingAndGlyphs">linear</text></g>
<g transform="translate(0,293.7)">
<rect x="75" y="0.3" width="42.5" height="182" fill="url(#src)"/>
<rect x="117" y="0.3" width="683" height="1.3" fill="url(#g1_0)"/>
<rect x="117" y="1" width="683" height="1.6" fill="url(#g1_1)"/>
<rect x="117" y="2" width="683" height="1.6" fill="url(#g1_2)"/>
<rect x="117" y="3" width="683" height="1.6" fill="url(#g1_3)"/>
<rect x="117" y="4" width="683" height="1.6" fill="url(#g1_4)"/>
<rect x="117" y="5" width="683" height="1.6" fill="url(#g1_5)"/>
<rect x="117" y="6" width="683" height="1.6" fill="url(#g1_6)"/>
<rect x="117" y="7" width="683" height="1.6" fill="url(#g1_7)"/>
<rect x="117" y="8" width="683" height="1.6" fill="url(#g1_8)"/>
<rect x="117" y="9" width="683" height="1.6" fill="url(#g1_9)"/>
<rect x="117" y="10" width="683" height="1.6" fill="url(#g1_10)"/>
<rect x="117" y="11" width="683" height="1.6" fill="url(#g1_11)"/>
<rect x="117" y="12" width="683" height="1.6" fill="url(#g1_12)"/>
<rect x="117" y="13" width="683" height="1.6" fill="url(#g1_13)"/>
<rect x="117" y="14" width="683" height="1.6" fill="url(#g1_14)"/>
<rect x="117" y="15" width="683" height="1.6" fill="url(#g1_15)"/>
<rect x="117" y="16" width="683" height="1.6" fill="url(#g1_16)"/>
<rect x="117" y="17" width="683" height="1.6" fill="url(#g1_17)"/>
<rect x="117" y="18" width="683" height="1.6" fill="url(#g1_18)"/>
<rect x="117" y="19" width="683" height="1.6" fill="url(#g1_19)"/>
<rect x="117" y="20" width="683" height="1.6" fill="url(#g1_20)"/>
<rect x="117" y="21" width="683" height="1.6" fill="url(#g1_21)"/>
<rect x="117" y="22" width="683" height="1.6" fill="url(#g1_22)"/>
<rect x="117" y="23" width="683" height="1.6" fill="url(#g1_23)"/>
<rect x="117" y="24" width="683" height="1.6" fill="url(#g1_24)"/>
<rect x="117" y="25" width="683" height="1.6" fill="url(#g1_25)"/>
<rect x="117" y="26" width="683" height="1.6" fill="url(#g1_26)"/>
<rect x="117" y="27" width="683" height="1.6" fill="url(#g1_27)"/>
<rect x="117" y="28" width="683" height="1.6" fill="url(#g1_28)"/>
<rect x="117" y="29" width="683" height="1.6" fill="url(#g1_29)"/>
<rect x="117" y="30" width="683" height="1.6" fill="url(#g1_30)"/>
<rect x="117" y="31" width="683" height="1.6" fill="url(#g1_31)"/>
<rect x="117" y="32" width="683" height="1.6" fill="url(#g1_32)"/>
<rect x="117" y="33" width="683" height="1.6" fill="url(#g1_33)"/>
<rect x="117" y="34" width="683" height="1.6" fill="url(#g1_34)"/>
<rect x="117" y="35" width="683" height="1.6" fill="url(#g1_35)"/>
<rect x="117" y="36" width="683" height="1.6" fill="url(#g1_36)"/>
<rect x="117" y="37" width="683" height="1.6" fill="url(#g1_37)"/>
<rect x="117" y="38" width="683" height="1.6" fill="url(#g1_38)"/>
<rect x="117" y="39" width="683" height="1.6" fill="url(#g1_39)"/>
<rect x="117" y="40" width="683" height="1.6" fill="url(#g1_40)"/>
<rect x="117" y="41" width="683" height="1.6" fill="url(#g1_41)"/>
<rect x="117" y="42" width="683" height="1.6" fill="url(#g1_42)"/>
<rect x="117" y="43" width="683" height="1.6" fill="url(#g1_43)"/>
<rect x="117" y="44" width="683" height="1.6" fill="url(#g1_44)"/>
<rect x="117" y="45" width="683" height="1.6" fill="url(#g1_45)"/>
<rect x="117" y="46" width="683" height="1.6" fill="url(#g1_46)"/>
<rect x="117" y="47" width="683" height="1.6" fill="url(#g1_47)"/>
<rect x="117" y="48" width="683" height="1.6" fill="url(#g1_48)"/>
<rect x="117" y="49" width="683" height="1.6" fill="url(#g1_49)"/>
<rect x="117" y="50" width="683" height="1.6" fill="url(#g1_50)"/>
<rect x="117" y="51" width="683" height="1.6" fill="url(#g1_51)"/>
<rect x="117" y="52" width="683" height="1.6" fill="url(#g1_52)"/>
<rect x="117" y="53" width="683" height="1.6" fill="url(#g1_53)"/>
<rect x="117" y="54" width="683" height="1.6" fill="url(#g1_54)"/>
<rect x="117" y="55" width="683" height="1.6" fill="url(#g1_55)"/>
<rect x="117" y="56" width="683" height="1.6" fill="url(#g1_56)"/>
<rect x="117" y="57" width="683" height="1.6" fill="url(#g1_57)"/>
<rect x="117" y="58" width="683" height="1.6" fill="url(#g1_58)"/>
<rect x="117" y="59" width="683" height="1.6" fill="url(#g1_59)"/>
<rect x="117" y="60" width="683" height="1.6" fill="url(#g1_60)"/>
<rect x="117" y="61" width="683" height="1.6" fill="url(#g1_61)"/>
<rect x="117" y="62" width="683" height="1.6" fill="url(#g1_62)"/>
<rect x="117" y="63" width="683" height="1.6" fill="url(#g1_63)"/>
<rect x="117" y="64" width="683" height="1.6" fill="url(#g1_64)"/>
<rect x="117" y="65" width="683" height="1.6" fill="url(#g1_65)"/>
<rect x="117" y="66" width="683" height="1.6" fill="url(#g1_66)"/>
<rect x="117" y="67" width="683" height="1.6" fill="url(#g1_67)"/>
<rect x="117" y="68" width="683" height="1.6" fill="url(#g1_68)"/>
<rect x="117" y="69" width="683" height="1.6" fill="url(#g1_69)"/>
<rect x="117" y="70" width="683" height="1.6" fill="url(#g1_70)"/>
<rect x="117" y="71" width="683" height="1.6" fill="url(#g1_71)"/>
<rect x="117" y="72" width="683" height="1.6" fill="url(#g1_72)"/>
<rect x="117" y="73" width="683" height="1.6" fill="url(#g1_73)"/>
<rect x="117" y="74" width="683" height="1.6" fill="url(#g1_74)"/>
<rect x="117" y="75" width="683" height="1.6" fill="url(#g1_75)"/>
<rect x="117" y="76" width="683" height="1.6" fill="url(#g1_76)"/>
<rect x="117" y="77" width="683" height="1.6" fill="url(#g1_77)"/>
<rect x="117" y="78" width="683" height="1.6" fill="url(#g1_78)"/>
<rect x="117" y="79" width="683" height="1.6" fill="url(#g1_79)"/>
<rect x="117" y="80" width="683" height="1.6" fill="url(#g1_80)"/>
<rect x="117" y="81" width="683" height="1.6" fill="url(#g1_81)"/>
<rect x="117" y="82" width="683" height="1.6" fill="url(#g1_82)"/>
<rect x="117" y="83" width="683" height="1.6" fill="url(#g1_83)"/>
<rect x="117" y="84" width="683" height="1.6" fill="url(#g1_84)"/>
<rect x="117" y="85" width="683" height="1.6" fill="url(#g1_85)"/>
<rect x="117" y="86" width="683" height="1.6" fill="url(#g1_86)"/>
<rect x="117" y="87" width="683" height="1.6" fill="url(#g1_87)"/>
<rect x="117" y="88" width="683" height="1.6" fill="url(#g1_88)"/>
<rect x="117" y="89" width="683" height="1.6" fill="url(#g1_89)"/>
<rect x="117" y="90" width="683" height="1.6" fill="url(#g1_90)"/>
<rect x="117" y="91" width="683" height="1.6" fill="url(#g1_90)"/>
<rect x="117" y="92" width="683" height="1.6" fill="url(#g1_89)"/>
<rect x="117" y="93" width="683" height="1.6" fill="url(#g1_88)"/>
<rect x="117" y="94" width="683" height="1.6" fill="url(#g1_87)"/>
<rect x="117" y="95" width="683" height="1.6" fill="url(#g1_86)"/>
<rect x="117" y="96" width="683" height="1.6" fill="url(#g1_85)"/>
<rect x="117" y="97" width="683" height="1.6" fill="url(#g1_84)"/>
<rect x="117" y="98" width="683" height="1.6" fill="url(#g1_83)"/>
<rect x="117" y="99" width="683" height="1.6" fill="url(#g1_82)"/>
<rect x="117" y="100" width="683" height="1.6" fill="url(#g1_81)"/>
<rect x="117" y="101" width="683" height="1.6" fill="url(#g1_80)"/>
<rect x="117" y="102" width="683" height="1.6" fill="url(#g1_79)"/>
<rect x="117" y="103" width="683" height="1.6" fill="url(#g1_78)"/>
<rect x="117" y="104" width="683" height="1.6" fill="url(#g1_77)"/>
<rect x="117" y="105" width="683" height="1.6" fill="url(#g1_76)"/>
<rect x="117" y="106" width="683" height="1.6" fill="url(#g1_75)"/>
<rect x="117" y="107" width="683" height="1.6" fill="url(#g1_74)"/>
<rect x="117" y="108" width="683" height="1.6" fill="url(#g1_73)"/>
<rect x="117" y="109" width="683" height="1.6" fill="url(#g1_72)"/>
<rect x="117" y="110" width="683" height="1.6" fill="url(#g1_71)"/>
<rect x="117" y="111" width="683" height="1.6" fill="url(#g1_70)"/>
<rect x="117" y="112" width="683" height="1.6" fill="url(#g1_69)"/>
<rect x="117" y="113" width="683" height="1.6" fill="url(#g1_68)"/>
<rect x="117" y="114" width="683" height="1.6" fill="url(#g1_67)"/>
<rect x="117" y="115" width="683" height="1.6" fill="url(#g1_66)"/>
<rect x="117" y="116" width="683" height="1.6" fill="url(#g1_65)"/>
<rect x="117" y="117" width="683" height="1.6" fill="url(#g1_64)"/>
<rect x="117" y="118" width="683" height="1.6" fill="url(#g1_63)"/>
<rect x="117" y="119" width="683" height="1.6" fill="url(#g1_62)"/>
<rect x="117" y="120" width="683" height="1.6" fill="url(#g1_61)"/>
<rect x="117" y="121" width="683" height="1.6" fill="url(#g1_60)"/>
<rect x="117" y="122" width="683" height="1.6" fill="url(#g1_59)"/>
<rect x="117" y="123" width="683" height="1.6" fill="url(#g1_58)"/>
<rect x="117" y="124" width="683" height="1.6" fill="url(#g1_57)"/>
<rect x="117" y="125" width="683" height="1.6" fill="url(#g1_56)"/>
<rect x="117" y="126" width="683" height="1.6" fill="url(#g1_55)"/>
<rect x="117" y="127" width="683" height="1.6" fill="url(#g1_54)"/>
<rect x="117" y="128" width="683" height="1.6" fill="url(#g1_53)"/>
<rect x="117" y="129" width="683" height="1.6" fill="url(#g1_52)"/>
<rect x="117" y="130" width="683" height="1.6" fill="url(#g1_51)"/>
<rect x="117" y="131" width="683" height="1.6" fill="url(#g1_50)"/>
<rect x="117" y="132" width="683" height="1.6" fill="url(#g1_49)"/>
<rect x="117" y="133" width="683" height="1.6" fill="url(#g1_48)"/>
<rect x="117" y="134" width="683" height="1.6" fill="url(#g1_47)"/>
<rect x="117" y="135" width="683" height="1.6" fill="url(#g1_46)"/>
<rect x="117" y="136" width="683" height="1.6" fill="url(#g1_45)"/>
<rect x="117" y="137" width="683" height="1.6" fill="url(#g1_44)"/>
<rect x="117" y="138" width="683" height="1.6" fill="url(#g1_43)"/>
<rect x="117" y="139" width="683" height="1.6" fill="url(#g1_42)"/>
<rect x="117" y="140" width="683" height="1.6" fill="url(#g1_41)"/>
<rect x="117" y="141" width="683" height="1.6" fill="url(#g1_40)"/>
<rect x="117" y="142" width="683" height="1.6" fill="url(#g1_39)"/>
<rect x="117" y="143" width="683" height="1.6" fill="url(#g1_38)"/>
<rect x="117" y="144" width="683" height="1.6" fill="url(#g1_37)"/>
<rect x="117" y="145" width="683" height="1.6" fill="url(#g1_36)"/>
<rect x="117" y="146" width="683" height="1.6" fill="url(#g1_35)"/>
<rect x="117" y="147" width="683" height="1.6" fill="url(#g1_34)"/>
<rect x="117" y="148" width="683" height="1.6" fill="url(#g1_33)"/>
<rect x="117" y="149" width="683" height="1.6" fill="url(#g1_32)"/>
<rect x="117" y="150" width="683" height="1.6" fill="url(#g1_31)"/>
<rect x="117" y="151" width="683" height="1.6" fill="url(#g1_30)"/>
<rect x="117" y="152" width="683" height="1.6" fill="url(#g1_29)"/>
<rect x="117" y="153" width="683" height="1.6" fill="url(#g1_28)"/>
<rect x="117" y="154" width="683" height="1.6" fill="url(#g1_27)"/>
<rect x="117" y="155" width="683" height="1.6" fill="url(#g1_26)"/>
<rect x="117" y="156" width="683" height="1.6" fill="url(#g1_25)"/>
<rect x="117" y="157" width="683" height="1.6" fill="url(#g1_24)"/>
<rect x="117" y="158" width="683" height="1.6" fill="url(#g1_23)"/>
<rect x="117" y="159" width="683" height="1.6" fill="url(#g1_22)"/>
<rect x="117" y="160" width="683" height="1.6" fill="url(#g1_21)"/>
<rect x="117" y="161" width="683" height="1.6" fill="url(#g1_20)"/>
<rect x="117" y="162" width="683" height="1.6" fill="url(#g1_19)"/>
<rect x="117" y="163" width="683" height="1.6" fill="url(#g1_18)"/>
<rect x="117" y="164" width="683" height="1.6" fill="url(#g1_17)"/>
<rect x="117" y="165" width="683" height="1.6" fill="url(#g1_16)"/>
<rect x="117" y="166" width="683" height="1.6" fill="url(#g1_15)"/>
<rect x="117" y="167" width="683" height="1.6" fill="url(#g1_14)"/>
<rect x="117" y="168" width="683" height="1.6" fill="url(#g1_13)"/>
<rect x="117" y="169" width="683" height="1.6" fill="url(#g1_12)"/>
<rect x="117" y="170" width="683" height="1.6" fill="url(#g1_11)"/>
<rect x="117" y="171" width="683" height="1.6" fill="url(#g1_10)"/>
<rect x="117" y="172" width="683" height="1.6" fill="url(#g1_9)"/>
<rect x="117" y="173" width="683" height="1.6" fill="url(#g1_8)"/>
<rect x="117" y="174" width="683" height="1.6" fill="url(#g1_7)"/>
<rect x="117" y="175" width="683" height="1.6" fill="url(#g1_6)"/>
<rect x="117" y="176" width="683" height="1.6" fill="url(#g1_5)"/>
<rect x="117" y="177" width="683" height="1.6" fill="url(#g1_4)"/>
<rect x="117" y="178" width="683" height="1.6" fill="url(#g1_3)"/>
<rect x="117" y="179" width="683" height="1.6" fill="url(#g1_2)"/>
<rect x="117" y="180" width="683" height="1.6" fill="url(#g1_1)"/>
<rect x="117" y="181" width="683" height="1.3" fill="url(#g1_0)"/>
<rect x="115.6" y="88.35" width="1.4" height="5.3" fill="#9090d8" fill-opacity="0.18"/>
</g>
<rect x="75.5" y="294.5" width="724" height="181" fill="none" stroke="#000" stroke-width="1"/>
<g font-family="Liberation Sans, sans-serif" font-size="14.1" fill="#000" stroke="#000" stroke-width="0.25" opacity="0.999"><path d="M78.5 476v4.6" stroke="#000" stroke-width="1"/>
<text x="78.4" y="496.2" text-anchor="middle" textLength="29" lengthAdjust="spacingAndGlyphs">0.00</text>
<path d="M206.5 476v4.6" stroke="#000" stroke-width="1"/>
<text x="206.4" y="496.2" text-anchor="middle" textLength="29" lengthAdjust="spacingAndGlyphs">5.00</text>
<path d="M334.5 476v4.6" stroke="#000" stroke-width="1"/>
<text x="334.4" y="496.2" text-anchor="middle" textLength="37.9" lengthAdjust="spacingAndGlyphs">10.00</text>
<path d="M462.5 476v4.6" stroke="#000" stroke-width="1"/>
<text x="462.4" y="496.2" text-anchor="middle" textLength="37.9" lengthAdjust="spacingAndGlyphs">15.00</text>
<path d="M590.5 476v4.6" stroke="#000" stroke-width="1"/>
<text x="590.4" y="496.2" text-anchor="middle" textLength="37.8" lengthAdjust="spacingAndGlyphs">20.00</text>
<path d="M718.5 476v4.6" stroke="#000" stroke-width="1"/>
<text x="718.4" y="496.2" text-anchor="middle" textLength="37.8" lengthAdjust="spacingAndGlyphs">25.00</text>
<path d="M75 316.5h-4.6" stroke="#000" stroke-width="1"/>
<text x="64.6" y="321.86" text-anchor="end" textLength="29" lengthAdjust="spacingAndGlyphs">2.00</text>
<path d="M75 350.5h-4.6" stroke="#000" stroke-width="1"/>
<text x="64.6" y="355.93" text-anchor="end" textLength="29" lengthAdjust="spacingAndGlyphs">1.00</text>
<path d="M75 385h-4.6" stroke="#000" stroke-width="1"/>
<text x="64.6" y="390" text-anchor="end" textLength="29" lengthAdjust="spacingAndGlyphs">0.00</text>
<path d="M75 419.5h-4.6" stroke="#000" stroke-width="1"/>
<text x="64.6" y="424.07" text-anchor="end" textLength="34.2" lengthAdjust="spacingAndGlyphs">-1.00</text>
<path d="M75 453.5h-4.6" stroke="#000" stroke-width="1"/>
<text x="64.6" y="458.14" text-anchor="end" textLength="34.2" lengthAdjust="spacingAndGlyphs">-2.00</text>
<text x="436.8" y="515.8" text-anchor="middle" textLength="45.8" lengthAdjust="spacingAndGlyphs">x (µm)</text>
<text transform="translate(20.4,386) rotate(-90)" text-anchor="middle" textLength="44.4" lengthAdjust="spacingAndGlyphs">y (µm)</text>
<rect x="844.2" y="302.27" width="9.1" height="165.46" fill="url(#cb)"/>
<path d="M848.75 294L853.3 302.77H844.2Z" fill="#fcfdbf"/>
<path d="M848.75 476L853.3 467.23H844.2Z" fill="#000004"/>
<path d="M848.75 294L853.3 302.27V467.73L848.75 476L844.2 467.73V302.27Z" fill="none" stroke="#000" stroke-width="1.1" stroke-linejoin="miter"/>
<path d="M853.3 347.5h4.9" stroke="#000" stroke-width="1"/>
<text x="863.8" y="352.5" textLength="15.9" lengthAdjust="spacingAndGlyphs">40</text>
<path d="M853.3 408.5h4.9" stroke="#000" stroke-width="1"/>
<text x="863.8" y="413.4" textLength="15.9" lengthAdjust="spacingAndGlyphs">20</text>
<text transform="translate(898,387.3) rotate(-90)" text-anchor="middle" textLength="24.6" lengthAdjust="spacingAndGlyphs">|Ey|</text>
<text x="437.5" y="285.7" font-size="18" stroke-width="0.1" text-anchor="middle" textLength="76.9" lengthAdjust="spacingAndGlyphs">quadratic</text></g>
<g transform="translate(0,555.7)">
<rect x="75" y="0.3" width="42.5" height="182" fill="url(#src)"/>
<rect x="117" y="0.3" width="683" height="1.3" fill="url(#g2_0)"/>
<rect x="117" y="1" width="683" height="1.6" fill="url(#g2_1)"/>
<rect x="117" y="2" width="683" height="1.6" fill="url(#g2_2)"/>
<rect x="117" y="3" width="683" height="1.6" fill="url(#g2_3)"/>
<rect x="117" y="4" width="683" height="1.6" fill="url(#g2_4)"/>
<rect x="117" y="5" width="683" height="1.6" fill="url(#g2_5)"/>
<rect x="117" y="6" width="683" height="1.6" fill="url(#g2_6)"/>
<rect x="117" y="7" width="683" height="1.6" fill="url(#g2_7)"/>
<rect x="117" y="8" width="683" height="1.6" fill="url(#g2_8)"/>
<rect x="117" y="9" width="683" height="1.6" fill="url(#g2_9)"/>
<rect x="117" y="10" width="683" height="1.6" fill="url(#g2_10)"/>
<rect x="117" y="11" width="683" height="1.6" fill="url(#g2_11)"/>
<rect x="117" y="12" width="683" height="1.6" fill="url(#g2_12)"/>
<rect x="117" y="13" width="683" height="1.6" fill="url(#g2_13)"/>
<rect x="117" y="14" width="683" height="1.6" fill="url(#g2_14)"/>
<rect x="117" y="15" width="683" height="1.6" fill="url(#g2_15)"/>
<rect x="117" y="16" width="683" height="1.6" fill="url(#g2_16)"/>
<rect x="117" y="17" width="683" height="1.6" fill="url(#g2_17)"/>
<rect x="117" y="18" width="683" height="1.6" fill="url(#g2_18)"/>
<rect x="117" y="19" width="683" height="1.6" fill="url(#g2_19)"/>
<rect x="117" y="20" width="683" height="1.6" fill="url(#g2_20)"/>
<rect x="117" y="21" width="683" height="1.6" fill="url(#g2_21)"/>
<rect x="117" y="22" width="683" height="1.6" fill="url(#g2_22)"/>
<rect x="117" y="23" width="683" height="1.6" fill="url(#g2_23)"/>
<rect x="117" y="24" width="683" height="1.6" fill="url(#g2_24)"/>
<rect x="117" y="25" width="683" height="1.6" fill="url(#g2_25)"/>
<rect x="117" y="26" width="683" height="1.6" fill="url(#g2_26)"/>
<rect x="117" y="27" width="683" height="1.6" fill="url(#g2_27)"/>
<rect x="117" y="28" width="683" height="1.6" fill="url(#g2_28)"/>
<rect x="117" y="29" width="683" height="1.6" fill="url(#g2_29)"/>
<rect x="117" y="30" width="683" height="1.6" fill="url(#g2_30)"/>
<rect x="117" y="31" width="683" height="1.6" fill="url(#g2_31)"/>
<rect x="117" y="32" width="683" height="1.6" fill="url(#g2_32)"/>
<rect x="117" y="33" width="683" height="1.6" fill="url(#g2_33)"/>
<rect x="117" y="34" width="683" height="1.6" fill="url(#g2_34)"/>
<rect x="117" y="35" width="683" height="1.6" fill="url(#g2_35)"/>
<rect x="117" y="36" width="683" height="1.6" fill="url(#g2_36)"/>
<rect x="117" y="37" width="683" height="1.6" fill="url(#g2_37)"/>
<rect x="117" y="38" width="683" height="1.6" fill="url(#g2_38)"/>
<rect x="117" y="39" width="683" height="1.6" fill="url(#g2_39)"/>
<rect x="117" y="40" width="683" height="1.6" fill="url(#g2_40)"/>
<rect x="117" y="41" width="683" height="1.6" fill="url(#g2_41)"/>
<rect x="117" y="42" width="683" height="1.6" fill="url(#g2_42)"/>
<rect x="117" y="43" width="683" height="1.6" fill="url(#g2_43)"/>
<rect x="117" y="44" width="683" height="1.6" fill="url(#g2_44)"/>
<rect x="117" y="45" width="683" height="1.6" fill="url(#g2_45)"/>
<rect x="117" y="46" width="683" height="1.6" fill="url(#g2_46)"/>
<rect x="117" y="47" width="683" height="1.6" fill="url(#g2_47)"/>
<rect x="117" y="48" width="683" height="1.6" fill="url(#g2_48)"/>
<rect x="117" y="49" width="683" height="1.6" fill="url(#g2_49)"/>
<rect x="117" y="50" width="683" height="1.6" fill="url(#g2_50)"/>
<rect x="117" y="51" width="683" height="1.6" fill="url(#g2_51)"/>
<rect x="117" y="52" width="683" height="1.6" fill="url(#g2_52)"/>
<rect x="117" y="53" width="683" height="1.6" fill="url(#g2_53)"/>
<rect x="117" y="54" width="683" height="1.6" fill="url(#g2_54)"/>
<rect x="117" y="55" width="683" height="1.6" fill="url(#g2_55)"/>
<rect x="117" y="56" width="683" height="1.6" fill="url(#g2_56)"/>
<rect x="117" y="57" width="683" height="1.6" fill="url(#g2_57)"/>
<rect x="117" y="58" width="683" height="1.6" fill="url(#g2_58)"/>
<rect x="117" y="59" width="683" height="1.6" fill="url(#g2_59)"/>
<rect x="117" y="60" width="683" height="1.6" fill="url(#g2_60)"/>
<rect x="117" y="61" width="683" height="1.6" fill="url(#g2_61)"/>
<rect x="117" y="62" width="683" height="1.6" fill="url(#g2_62)"/>
<rect x="117" y="63" width="683" height="1.6" fill="url(#g2_63)"/>
<rect x="117" y="64" width="683" height="1.6" fill="url(#g2_64)"/>
<rect x="117" y="65" width="683" height="1.6" fill="url(#g2_65)"/>
<rect x="117" y="66" width="683" height="1.6" fill="url(#g2_66)"/>
<rect x="117" y="67" width="683" height="1.6" fill="url(#g2_67)"/>
<rect x="117" y="68" width="683" height="1.6" fill="url(#g2_68)"/>
<rect x="117" y="69" width="683" height="1.6" fill="url(#g2_69)"/>
<rect x="117" y="70" width="683" height="1.6" fill="url(#g2_70)"/>
<rect x="117" y="71" width="683" height="1.6" fill="url(#g2_71)"/>
<rect x="117" y="72" width="683" height="1.6" fill="url(#g2_72)"/>
<rect x="117" y="73" width="683" height="1.6" fill="url(#g2_73)"/>
<rect x="117" y="74" width="683" height="1.6" fill="url(#g2_74)"/>
<rect x="117" y="75" width="683" height="1.6" fill="url(#g2_75)"/>
<rect x="117" y="76" width="683" height="1.6" fill="url(#g2_76)"/>
<rect x="117" y="77" width="683" height="1.6" fill="url(#g2_77)"/>
<rect x="117" y="78" width="683" height="1.6" fill="url(#g2_78)"/>
<rect x="117" y="79" width="683" height="1.6" fill="url(#g2_79)"/>
<rect x="117" y="80" width="683" height="1.6" fill="url(#g2_80)"/>
<rect x="117" y="81" width="683" height="1.6" fill="url(#g2_81)"/>
<rect x="117" y="82" width="683" height="1.6" fill="url(#g2_82)"/>
<rect x="117" y="83" width="683" height="1.6" fill="url(#g2_83)"/>
<rect x="117" y="84" width="683" height="1.6" fill="url(#g2_84)"/>
<rect x="117" y="85" width="683" height="1.6" fill="url(#g2_85)"/>
<rect x="117" y="86" width="683" height="1.6" fill="url(#g2_86)"/>
<rect x="117" y="87" width="683" height="1.6" fill="url(#g2_87)"/>
<rect x="117" y="88" width="683" height="1.6" fill="url(#g2_88)"/>
<rect x="117" y="89" width="683" height="1.6" fill="url(#g2_89)"/>
<rect x="117" y="90" width="683" height="1.6" fill="url(#g2_90)"/>
<rect x="117" y="91" width="683" height="1.6" fill="url(#g2_90)"/>
<rect x="117" y="92" width="683" height="1.6" fill="url(#g2_89)"/>
<rect x="117" y="93" width="683" height="1.6" fill="url(#g2_88)"/>
<rect x="117" y="94" width="683" height="1.6" fill="url(#g2_87)"/>
<rect x="117" y="95" width="683" height="1.6" fill="url(#g2_86)"/>
<rect x="117" y="96" width="683" height="1.6" fill="url(#g2_85)"/>
<rect x="117" y="97" width="683" height="1.6" fill="url(#g2_84)"/>
<rect x="117" y="98" width="683" height="1.6" fill="url(#g2_83)"/>
<rect x="117" y="99" width="683" height="1.6" fill="url(#g2_82)"/>
<rect x="117" y="100" width="683" height="1.6" fill="url(#g2_81)"/>
<rect x="117" y="101" width="683" height="1.6" fill="url(#g2_80)"/>
<rect x="117" y="102" width="683" height="1.6" fill="url(#g2_79)"/>
<rect x="117" y="103" width="683" height="1.6" fill="url(#g2_78)"/>
<rect x="117" y="104" width="683" height="1.6" fill="url(#g2_77)"/>
<rect x="117" y="105" width="683" height="1.6" fill="url(#g2_76)"/>
<rect x="117" y="106" width="683" height="1.6" fill="url(#g2_75)"/>
<rect x="117" y="107" width="683" height="1.6" fill="url(#g2_74)"/>
<rect x="117" y="108" width="683" height="1.6" fill="url(#g2_73)"/>
<rect x="117" y="109" width="683" height="1.6" fill="url(#g2_72)"/>
<rect x="117" y="110" width="683" height="1.6" fill="url(#g2_71)"/>
<rect x="117" y="111" width="683" height="1.6" fill="url(#g2_70)"/>
<rect x="117" y="112" width="683" height="1.6" fill="url(#g2_69)"/>
<rect x="117" y="113" width="683" height="1.6" fill="url(#g2_68)"/>
<rect x="117" y="114" width="683" height="1.6" fill="url(#g2_67)"/>
<rect x="117" y="115" width="683" height="1.6" fill="url(#g2_66)"/>
<rect x="117" y="116" width="683" height="1.6" fill="url(#g2_65)"/>
<rect x="117" y="117" width="683" height="1.6" fill="url(#g2_64)"/>
<rect x="117" y="118" width="683" height="1.6" fill="url(#g2_63)"/>
<rect x="117" y="119" width="683" height="1.6" fill="url(#g2_62)"/>
<rect x="117" y="120" width="683" height="1.6" fill="url(#g2_61)"/>
<rect x="117" y="121" width="683" height="1.6" fill="url(#g2_60)"/>
<rect x="117" y="122" width="683" height="1.6" fill="url(#g2_59)"/>
<rect x="117" y="123" width="683" height="1.6" fill="url(#g2_58)"/>
<rect x="117" y="124" width="683" height="1.6" fill="url(#g2_57)"/>
<rect x="117" y="125" width="683" height="1.6" fill="url(#g2_56)"/>
<rect x="117" y="126" width="683" height="1.6" fill="url(#g2_55)"/>
<rect x="117" y="127" width="683" height="1.6" fill="url(#g2_54)"/>
<rect x="117" y="128" width="683" height="1.6" fill="url(#g2_53)"/>
<rect x="117" y="129" width="683" height="1.6" fill="url(#g2_52)"/>
<rect x="117" y="130" width="683" height="1.6" fill="url(#g2_51)"/>
<rect x="117" y="131" width="683" height="1.6" fill="url(#g2_50)"/>
<rect x="117" y="132" width="683" height="1.6" fill="url(#g2_49)"/>
<rect x="117" y="133" width="683" height="1.6" fill="url(#g2_48)"/>
<rect x="117" y="134" width="683" height="1.6" fill="url(#g2_47)"/>
<rect x="117" y="135" width="683" height="1.6" fill="url(#g2_46)"/>
<rect x="117" y="136" width="683" height="1.6" fill="url(#g2_45)"/>
<rect x="117" y="137" width="683" height="1.6" fill="url(#g2_44)"/>
<rect x="117" y="138" width="683" height="1.6" fill="url(#g2_43)"/>
<rect x="117" y="139" width="683" height="1.6" fill="url(#g2_42)"/>
<rect x="117" y="140" width="683" height="1.6" fill="url(#g2_41)"/>
<rect x="117" y="141" width="683" height="1.6" fill="url(#g2_40)"/>
<rect x="117" y="142" width="683" height="1.6" fill="url(#g2_39)"/>
<rect x="117" y="143" width="683" height="1.6" fill="url(#g2_38)"/>
<rect x="117" y="144" width="683" height="1.6" fill="url(#g2_37)"/>
<rect x="117" y="145" width="683" height="1.6" fill="url(#g2_36)"/>
<rect x="117" y="146" width="683" height="1.6" fill="url(#g2_35)"/>
<rect x="117" y="147" width="683" height="1.6" fill="url(#g2_34)"/>
<rect x="117" y="148" width="683" height="1.6" fill="url(#g2_33)"/>
<rect x="117" y="149" width="683" height="1.6" fill="url(#g2_32)"/>
<rect x="117" y="150" width="683" height="1.6" fill="url(#g2_31)"/>
<rect x="117" y="151" width="683" height="1.6" fill="url(#g2_30)"/>
<rect x="117" y="152" width="683" height="1.6" fill="url(#g2_29)"/>
<rect x="117" y="153" width="683" height="1.6" fill="url(#g2_28)"/>
<rect x="117" y="154" width="683" height="1.6" fill="url(#g2_27)"/>
<rect x="117" y="155" width="683" height="1.6" fill="url(#g2_26)"/>
<rect x="117" y="156" width="683" height="1.6" fill="url(#g2_25)"/>
<rect x="117" y="157" width="683" height="1.6" fill="url(#g2_24)"/>
<rect x="117" y="158" width="683" height="1.6" fill="url(#g2_23)"/>
<rect x="117" y="159" width="683" height="1.6" fill="url(#g2_22)"/>
<rect x="117" y="160" width="683" height="1.6" fill="url(#g2_21)"/>
<rect x="117" y="161" width="683" height="1.6" fill="url(#g2_20)"/>
<rect x="117" y="162" width="683" height="1.6" fill="url(#g2_19)"/>
<rect x="117" y="163" width="683" height="1.6" fill="url(#g2_18)"/>
<rect x="117" y="164" width="683" height="1.6" fill="url(#g2_17)"/>
<rect x="117" y="165" width="683" height="1.6" fill="url(#g2_16)"/>
<rect x="117" y="166" width="683" height="1.6" fill="url(#g2_15)"/>
<rect x="117" y="167" width="683" height="1.6" fill="url(#g2_14)"/>
<rect x="117" y="168" width="683" height="1.6" fill="url(#g2_13)"/>
<rect x="117" y="169" width="683" height="1.6" fill="url(#g2_12)"/>
<rect x="117" y="170" width="683" height="1.6" fill="url(#g2_11)"/>
<rect x="117" y="171" width="683" height="1.6" fill="url(#g2_10)"/>
<rect x="117" y="172" width="683" height="1.6" fill="url(#g2_9)"/>
<rect x="117" y="173" width="683" height="1.6" fill="url(#g2_8)"/>
<rect x="117" y="174" width="683" height="1.6" fill="url(#g2_7)"/>
<rect x="117" y="175" width="683" height="1.6" fill="url(#g2_6)"/>
<rect x="117" y="176" width="683" height="1.6" fill="url(#g2_5)"/>
<rect x="117" y="177" width="683" height="1.6" fill="url(#g2_4)"/>
<rect x="117" y="178" width="683" height="1.6" fill="url(#g2_3)"/>
<rect x="117" y="179" width="683" height="1.6" fill="url(#g2_2)"/>
<rect x="117" y="180" width="683" height="1.6" fill="url(#g2_1)"/>
<rect x="117" y="181" width="683" height="1.3" fill="url(#g2_0)"/>
<rect x="115.6" y="88.35" width="1.4" height="5.3" fill="#9090d8" fill-opacity="0.18"/>
</g>
<rect x="75.5" y="556.5" width="724" height="181" fill="none" stroke="#000" stroke-width="1"/>
<g font-family="Liberation Sans, sans-serif" font-size="14.1" fill="#000" stroke="#000" stroke-width="0.25" opacity="0.999"><path d="M78.5 738v4.6" stroke="#000" stroke-width="1"/>
<text x="78.4" y="758.2" text-anchor="middle" textLength="29" lengthAdjust="spacingAndGlyphs">0.00</text>
<path d="M206.5 738v4.6" stroke="#000" stroke-width="1"/>
<text x="206.4" y="758.2" text-anchor="middle" textLength="29" lengthAdjust="spacingAndGlyphs">5.00</text>
<path d="M334.5 738v4.6" stroke="#000" stroke-width="1"/>
<text x="334.4" y="758.2" text-anchor="middle" textLength="37.9" lengthAdjust="spacingAndGlyphs">10.00</text>
<path d="M462.5 738v4.6" stroke="#000" stroke-width="1"/>
<text x="462.4" y="758.2" text-anchor="middle" textLength="37.9" lengthAdjust="spacingAndGlyphs">15.00</text>
<path d="M590.5 738v4.6" stroke="#000" stroke-width="1"/>
<text x="590.4" y="758.2" text-anchor="middle" textLength="37.8" lengthAdjust="spacingAndGlyphs">20.00</text>
<path d="M718.5 738v4.6" stroke="#000" stroke-width="1"/>
<text x="718.4" y="758.2" text-anchor="middle" textLength="37.8" lengthAdjust="spacingAndGlyphs">25.00</text>
<path d="M75 578.5h-4.6" stroke="#000" stroke-width="1"/>
<text x="64.6" y="583.76" text-anchor="end" textLength="29" lengthAdjust="spacingAndGlyphs">2.00</text>
<path d="M75 612.5h-4.6" stroke="#000" stroke-width="1"/>
<text x="64.6" y="617.83" text-anchor="end" textLength="29" lengthAdjust="spacingAndGlyphs">1.00</text>
<path d="M75 646.5h-4.6" stroke="#000" stroke-width="1"/>
<text x="64.6" y="651.9" text-anchor="end" textLength="29" lengthAdjust="spacingAndGlyphs">0.00</text>
<path d="M75 680.5h-4.6" stroke="#000" stroke-width="1"/>
<text x="64.6" y="685.97" text-anchor="end" textLength="34.2" lengthAdjust="spacingAndGlyphs">-1.00</text>
<path d="M75 715.5h-4.6" stroke="#000" stroke-width="1"/>
<text x="64.6" y="720.04" text-anchor="end" textLength="34.2" lengthAdjust="spacingAndGlyphs">-2.00</text>
<text x="436.8" y="777.8" text-anchor="middle" textLength="45.8" lengthAdjust="spacingAndGlyphs">x (µm)</text>
<text transform="translate(20.4,648) rotate(-90)" text-anchor="middle" textLength="44.4" lengthAdjust="spacingAndGlyphs">y (µm)</text>
<rect x="844.2" y="564.27" width="9.1" height="165.46" fill="url(#cb)"/>
<path d="M848.75 556L853.3 564.77H844.2Z" fill="#fcfdbf"/>
<path d="M848.75 738L853.3 729.23H844.2Z" fill="#000004"/>
<path d="M848.75 556L853.3 564.27V729.73L848.75 738L844.2 729.73V564.27Z" fill="none" stroke="#000" stroke-width="1.1" stroke-linejoin="miter"/>
<path d="M853.3 609.5h4.9" stroke="#000" stroke-width="1"/>
<text x="863.8" y="614.5" textLength="15.9" lengthAdjust="spacingAndGlyphs">40</text>
<path d="M853.3 670.5h4.9" stroke="#000" stroke-width="1"/>
<text x="863.8" y="675.4" textLength="15.9" lengthAdjust="spacingAndGlyphs">20</text>
<text transform="translate(898,649.3) rotate(-90)" text-anchor="middle" textLength="24.6" lengthAdjust="spacingAndGlyphs">|Ey|</text>
<text x="437.5" y="547.7" font-size="18" stroke-width="0.1" text-anchor="middle" textLength="95.6" lengthAdjust="spacingAndGlyphs">exponential</text></g>
</svg>
</body></html>
